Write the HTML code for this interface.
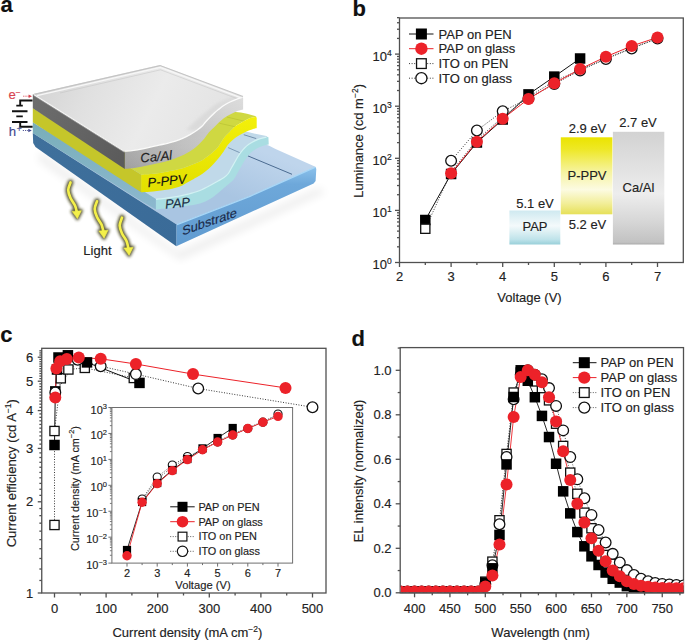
<!DOCTYPE html><html><head><meta charset="utf-8"><style>html,body{margin:0;padding:0;background:#fff;overflow:hidden}svg{display:block}text{font-family:"Liberation Sans", sans-serif}</style></head><body>
<svg width="685" height="640" viewBox="0 0 685 640">
<rect width="685" height="640" fill="#fff"/>
<text x="0.5" y="11.8" font-size="22" text-anchor="start" fill="#111" stroke="#111" stroke-width="0.15" font-weight="bold">a</text>
<text x="352.5" y="15.6" font-size="22" text-anchor="start" fill="#111" stroke="#111" stroke-width="0.15" font-weight="bold">b</text>
<text x="0.3" y="342.4" font-size="22" text-anchor="start" fill="#111" stroke="#111" stroke-width="0.15" font-weight="bold">c</text>
<text x="351.6" y="345.7" font-size="22" text-anchor="start" fill="#111" stroke="#111" stroke-width="0.15" font-weight="bold">d</text>
<defs><linearGradient id="aCaTop" gradientUnits="userSpaceOnUse" x1="40" y1="70" x2="200" y2="150"><stop offset="0" stop-color="#d3d3d3"/><stop offset="0.3" stop-color="#e0e0e0"/><stop offset="0.65" stop-color="#ebebeb"/><stop offset="1" stop-color="#e4e4e4"/></linearGradient><linearGradient id="aCaFront" gradientUnits="userSpaceOnUse" x1="125" y1="0" x2="245" y2="0"><stop offset="0" stop-color="#ababab"/><stop offset="0.45" stop-color="#c0c0c0"/><stop offset="1" stop-color="#d2d2d2"/></linearGradient><linearGradient id="aCaFrontV" x1="0" y1="0" x2="0" y2="1"><stop offset="0" stop-color="#fff" stop-opacity="0.25"/><stop offset="0.5" stop-color="#fff" stop-opacity="0"/><stop offset="1" stop-color="#000" stop-opacity="0.07"/></linearGradient><linearGradient id="aCaLeft" gradientUnits="userSpaceOnUse" x1="33" y1="95" x2="125" y2="165"><stop offset="0" stop-color="#6e6e6e"/><stop offset="1" stop-color="#5a5a5a"/></linearGradient><linearGradient id="aPpvFront" x1="0" y1="0" x2="0" y2="1"><stop offset="0" stop-color="#f3f00a"/><stop offset="1" stop-color="#e2df00"/></linearGradient><linearGradient id="aPapLeft" x1="0" y1="0" x2="0" y2="1"><stop offset="0" stop-color="#79aeb9"/><stop offset="1" stop-color="#8cb8cf"/></linearGradient><linearGradient id="aSubFront" x1="0" y1="0" x2="0" y2="1"><stop offset="0" stop-color="#8cc2ec"/><stop offset="0.22" stop-color="#6ea8da"/><stop offset="1" stop-color="#609bd0"/></linearGradient><linearGradient id="aSubLeft" gradientUnits="userSpaceOnUse" x1="33" y1="135" x2="176" y2="240"><stop offset="0" stop-color="#3f709c"/><stop offset="1" stop-color="#3a6b98"/></linearGradient><linearGradient id="aSubTop" gradientUnits="userSpaceOnUse" x1="260" y1="150" x2="240" y2="200"><stop offset="0" stop-color="#bfd5ec"/><stop offset="1" stop-color="#a9c5e2"/></linearGradient><filter id="aBlur" x="-50%" y="-50%" width="200%" height="200%"><feGaussianBlur stdDeviation="1.5"/></filter><filter id="aShadow" x="-50%" y="-50%" width="200%" height="200%"><feGaussianBlur stdDeviation="4"/></filter></defs>
<path d="M40,152 L178,252 L318,188 L326,192 L180,260 L38,160 Z" fill="#000" opacity="0.07" filter="url(#aShadow)"/>
<path d="M176.3,224.3 L250,195.8 L315.4,166.7 L275,148.75 L268.75,145.6 L250,140 L100,100 L32.8,133.1 Z" fill="url(#aSubTop)" />
<path d="M247.7,155.8 L292,174.3" fill="none" stroke="#3d5f86" stroke-width="0.9"/>
<path d="M176.3,224.3 L250,195.8 L315.4,166.7 L316.3,169 L315.6,181 L313.6,183.5 L250,212.6 L176.3,246.2 Z" fill="url(#aSubFront)" />
<path d="M177,224.7 L250,196.3 L315,167.3" fill="none" stroke="#a9d7f6" stroke-width="1.3"/>
<path d="M32.8,133.1 L176.3,224.3 L176.3,246.2 L35.5,147 L33.2,143 Z" fill="url(#aSubLeft)" />
<path d="M155.8,199.1 C157.27,198.98 160.7,198.88 164.6,198.4 C168.5,197.92 174.33,197.18 179.2,196.2 C184.07,195.22 190.33,193.45 193.8,192.5 C197.27,191.55 197.3,191.67 200,190.5 C202.7,189.33 207,187.08 210,185.5 C213,183.92 215.67,182.33 218,181 C220.33,179.67 222.32,178.71 224,177.5 C225.68,176.29 226.89,175.28 228.1,173.75 C229.31,172.22 230.2,170.12 231.25,168.3 C232.3,166.48 233.36,164.63 234.4,162.8 C235.44,160.97 236.47,158.98 237.5,157.3 C238.53,155.62 239.43,154.25 240.6,152.7 C241.77,151.15 243.07,149.43 244.5,148 C245.93,146.57 247.5,145.28 249.2,144.1 C250.9,142.92 252.87,141.82 254.7,140.9 C256.53,139.98 258.23,139.23 260.2,138.6 C262.17,137.97 265.45,137.35 266.5,137.1 L267.6,136.3 L257.8,134.3 L250,132.5 L100,95 L32.8,122.3 Z" fill="#c0d9e9"/>
<path d="M243.75,134.7 L256.25,138.6" fill="none" stroke="#4f6f8f" stroke-width="0.7"/>
<path d="M228.1,147.6 L239.8,152.7" fill="none" stroke="#5f7f9f" stroke-width="0.7"/>
<path d="M155.8,199.1 C157.27,198.98 160.7,198.88 164.6,198.4 C168.5,197.92 174.33,197.18 179.2,196.2 C184.07,195.22 190.33,193.45 193.8,192.5 C197.27,191.55 197.3,191.67 200,190.5 C202.7,189.33 207,187.08 210,185.5 C213,183.92 215.67,182.33 218,181 C220.33,179.67 222.32,178.71 224,177.5 C225.68,176.29 226.89,175.28 228.1,173.75 C229.31,172.22 230.2,170.12 231.25,168.3 C232.3,166.48 233.36,164.63 234.4,162.8 C235.44,160.97 236.47,158.98 237.5,157.3 C238.53,155.62 239.43,154.25 240.6,152.7 C241.77,151.15 243.07,149.43 244.5,148 C245.93,146.57 247.5,145.28 249.2,144.1 C250.9,142.92 252.87,141.82 254.7,140.9 C256.53,139.98 258.23,139.23 260.2,138.6 C262.17,137.97 265.13,137.33 266.5,137.1 C267.87,136.87 268.08,137.18 268.4,137.2 L268.75,144.6 C267.71,144.83 264.58,145.31 262.5,146 C260.42,146.69 258.2,147.63 256.25,148.75 C254.3,149.87 252.36,151.27 250.8,152.7 C249.24,154.12 248.08,155.75 246.9,157.3 C245.72,158.85 244.8,160.3 243.75,162 C242.7,163.7 241.64,165.67 240.6,167.5 C239.56,169.33 238.53,171.18 237.5,173 C236.47,174.82 235.57,176.82 234.4,178.4 C233.23,179.98 231.9,181.2 230.5,182.5 C229.1,183.8 228.17,184.37 226,186.2 C223.83,188.03 220.17,191.37 217.5,193.5 C214.83,195.63 212.92,197.33 210,199 C207.08,200.67 204,202.33 200,203.5 C196,204.67 191,205.25 186,206 C181,206.75 175.03,207.42 170,208 C164.97,208.58 158.17,209.25 155.8,209.5 Z" fill="#a9dde2" />
<path d="M155.8,199.4 C157.27,198.98 160.7,198.88 164.6,198.4 C168.5,197.92 174.33,197.18 179.2,196.2 C184.07,195.22 190.33,193.45 193.8,192.5 C197.27,191.55 197.3,191.67 200,190.5 C202.7,189.33 207,187.08 210,185.5 C213,183.92 215.67,182.33 218,181 C220.33,179.67 222.32,178.71 224,177.5 C225.68,176.29 226.89,175.28 228.1,173.75 C229.31,172.22 230.2,170.12 231.25,168.3 C232.3,166.48 233.36,164.63 234.4,162.8 C235.44,160.97 236.47,158.98 237.5,157.3 C238.53,155.62 239.43,154.25 240.6,152.7 C241.77,151.15 243.07,149.43 244.5,148 C245.93,146.57 247.5,145.28 249.2,144.1 C250.9,142.92 252.87,141.82 254.7,140.9 C256.53,139.98 258.23,139.23 260.2,138.6 C262.17,137.97 265.45,137.35 266.5,137.1" fill="none" stroke="#d2f2f3" stroke-width="1.2"/>
<path d="M32.8,122.3 L155.8,199.1 L155.8,209.5 L142,201.4 L32.8,133.1 Z" fill="url(#aPapLeft)" />
<path d="M141.1,174.5 C142.79,174.42 148.1,174.25 151.25,174 C154.4,173.75 156.88,173.5 160,173 C163.12,172.5 167,171.63 170,171 C173,170.37 175.5,169.8 178,169.2 C180.5,168.6 183,168 185,167.4 C187,166.8 188.12,166.32 190,165.6 C191.88,164.88 194.17,164.03 196.25,163.1 C198.33,162.17 200.42,161.25 202.5,160 C204.58,158.75 206.88,157.06 208.75,155.6 C210.62,154.14 212.19,152.7 213.75,151.25 C215.31,149.8 216.89,148.34 218.1,146.9 C219.31,145.46 220.14,143.96 221,142.6 C221.86,141.24 222.35,140.02 223.25,138.75 C224.15,137.48 225.36,136.14 226.4,135 C227.44,133.86 228.47,132.94 229.5,131.9 C230.53,130.86 231.45,129.8 232.6,128.75 C233.75,127.7 235.04,126.54 236.4,125.6 C237.76,124.66 239.3,123.93 240.75,123.1 C242.2,122.27 243.54,121.43 245.1,120.6 C246.66,119.77 248.43,118.72 250.1,118.1 C251.77,117.48 254.27,117.1 255.1,116.9 L256.5,116.5 L255.1,115.9 L247,113.75 L240.75,112.5 L235.75,111.9 L100,90 L32.8,108.3 Z" fill="#cfd842"/>
<path d="M226.9,117 L245,121.4" fill="none" stroke="#b9c232" stroke-width="0.7"/>
<path d="M219.4,123.25 L236.25,127" fill="none" stroke="#b9c232" stroke-width="0.7"/>
<path d="M141.1,174.5 C142.79,174.42 148.1,174.25 151.25,174 C154.4,173.75 156.88,173.5 160,173 C163.12,172.5 167,171.63 170,171 C173,170.37 175.5,169.8 178,169.2 C180.5,168.6 183,168 185,167.4 C187,166.8 188.12,166.32 190,165.6 C191.88,164.88 194.17,164.03 196.25,163.1 C198.33,162.17 200.42,161.25 202.5,160 C204.58,158.75 206.88,157.06 208.75,155.6 C210.62,154.14 212.19,152.7 213.75,151.25 C215.31,149.8 216.89,148.34 218.1,146.9 C219.31,145.46 220.14,143.96 221,142.6 C221.86,141.24 222.35,140.02 223.25,138.75 C224.15,137.48 225.36,136.14 226.4,135 C227.44,133.86 228.47,132.94 229.5,131.9 C230.53,130.86 231.45,129.8 232.6,128.75 C233.75,127.7 235.04,126.54 236.4,125.6 C237.76,124.66 239.3,123.93 240.75,123.1 C242.2,122.27 243.54,121.43 245.1,120.6 C246.66,119.77 248.43,118.72 250.1,118.1 C251.77,117.48 254,116.98 255.1,116.9 C256.2,116.82 256.43,117.48 256.7,117.6 L256.7,128.1 C255.92,128.32 253.62,128.88 252,129.4 C250.38,129.93 248.67,130.53 247,131.25 C245.33,131.97 243.57,132.92 242,133.75 C240.43,134.58 239.06,135.31 237.6,136.25 C236.14,137.19 234.6,138.26 233.25,139.4 C231.9,140.54 230.64,141.85 229.5,143.1 C228.36,144.35 227.57,145.23 226.4,146.9 C225.23,148.57 223.88,151.12 222.5,153.1 C221.12,155.07 219.56,156.97 218.1,158.75 C216.64,160.53 215.31,162.08 213.75,163.75 C212.19,165.42 210.62,167.08 208.75,168.75 C206.88,170.42 204.58,172.29 202.5,173.75 C200.42,175.21 198.33,176.29 196.25,177.5 C194.17,178.71 192.84,179.47 190,181 C187.16,182.53 183.43,185.2 179.2,186.7 C174.97,188.2 169.47,189.15 164.6,190 C159.73,190.85 153.92,191.42 150,191.8 C146.08,192.18 142.58,192.22 141.1,192.3 Z" fill="url(#aPpvFront)" />
<path d="M32.8,108.3 L141.1,174.5 L141.1,192.3 L32.8,122.3 Z" fill="#c5c62a" />
<path d="M32.8,94.2 L160,65 L242.5,96.4 L241.9,97.5 C240.96,97.82 238.23,98.65 236.25,99.4 C234.27,100.15 232.08,100.98 230,102 C227.92,103.02 225.62,104.28 223.75,105.5 C221.88,106.72 220.31,108.05 218.75,109.3 C217.19,110.55 215.81,111.72 214.4,113 C212.99,114.28 211.7,115.58 210.3,117 C208.9,118.42 207.38,119.95 206,121.5 C204.62,123.05 203.57,124.8 202,126.3 C200.43,127.8 198.67,129.07 196.6,130.5 C194.53,131.93 191.93,133.58 189.6,134.9 C187.27,136.22 184.95,137.35 182.6,138.4 C180.25,139.45 177.85,140.42 175.5,141.2 C173.15,141.98 171.25,142.43 168.5,143.1 C165.75,143.77 162.53,144.4 159,145.2 C155.47,146 151.2,147.07 147.3,147.9 C143.4,148.73 139.35,149.62 135.6,150.2 C131.85,150.78 126.6,151.2 124.8,151.4 Z" fill="url(#aCaTop)"/>
<path d="M241.9,97.5 C240.96,97.82 238.23,98.65 236.25,99.4 C234.27,100.15 232.08,100.98 230,102 C227.92,103.02 225.62,104.28 223.75,105.5 C221.88,106.72 220.31,108.05 218.75,109.3 C217.19,110.55 215.81,111.72 214.4,113 C212.99,114.28 211.7,115.58 210.3,117 C208.9,118.42 207.38,119.95 206,121.5 C204.62,123.05 203.57,124.8 202,126.3 C200.43,127.8 197.5,129.8 196.6,130.5 L186,130 L200,117 L216,104 L236,95.5 Z" fill="#d6d6d6" opacity="0.7" filter="url(#aBlur)"/>
<path d="M34,94.4 L160,65.6 L243,96.6" fill="none" stroke="#c4c4c4" stroke-width="1.1"/>
<path d="M37,95.6 L160.2,67.4 L240.5,97.6" fill="none" stroke="#f7f7f7" stroke-width="1.4"/>
<path d="M60,93 L160.5,69.8 L238,99" fill="none" stroke="#c0c0c0" stroke-width="0.8" opacity="0.6"/>
<path d="M124.8,151.4 C126.6,151.2 131.85,150.78 135.6,150.2 C139.35,149.62 143.4,148.73 147.3,147.9 C151.2,147.07 155.47,146 159,145.2 C162.53,144.4 165.75,143.77 168.5,143.1 C171.25,142.43 173.15,141.98 175.5,141.2 C177.85,140.42 180.25,139.45 182.6,138.4 C184.95,137.35 187.27,136.22 189.6,134.9 C191.93,133.58 194.53,131.93 196.6,130.5 C198.67,129.07 200.43,127.8 202,126.3 C203.57,124.8 204.62,123.05 206,121.5 C207.38,119.95 208.9,118.42 210.3,117 C211.7,115.58 212.99,114.28 214.4,113 C215.81,111.72 217.19,110.55 218.75,109.3 C220.31,108.05 221.88,106.72 223.75,105.5 C225.62,104.28 227.92,103.02 230,102 C232.08,100.98 234.27,100.15 236.25,99.4 C238.23,98.65 240.76,97.7 241.9,97.5 C243.04,97.3 242.9,98.08 243.1,98.2 L243.1,109.5 C241.96,109.82 238.43,110.57 236.25,111.4 C234.07,112.23 232.08,113.36 230,114.5 C227.92,115.64 225.62,116.9 223.75,118.25 C221.88,119.6 220.31,121.14 218.75,122.6 C217.19,124.06 216.03,125.38 214.4,127 C212.78,128.62 210.67,130.38 209,132.3 C207.33,134.22 206.11,136.47 204.4,138.5 C202.69,140.53 200.63,142.72 198.75,144.5 C196.87,146.28 195.21,147.7 193.1,149.2 C190.99,150.7 188.43,152.23 186.1,153.5 C183.77,154.77 181.78,155.67 179.1,156.8 C176.42,157.93 173.35,159.27 170,160.3 C166.65,161.33 162.78,162.13 159,163 C155.22,163.87 151.2,164.7 147.3,165.5 C143.4,166.3 139.35,167.22 135.6,167.8 C131.85,168.38 126.6,168.8 124.8,169 Z" fill="url(#aCaFront)" />
<path d="M124.8,151.4 C126.6,151.2 131.85,150.78 135.6,150.2 C139.35,149.62 143.4,148.73 147.3,147.9 C151.2,147.07 155.47,146 159,145.2 C162.53,144.4 165.75,143.77 168.5,143.1 C171.25,142.43 173.15,141.98 175.5,141.2 C177.85,140.42 180.25,139.45 182.6,138.4 C184.95,137.35 187.27,136.22 189.6,134.9 C191.93,133.58 194.53,131.93 196.6,130.5 C198.67,129.07 200.43,127.8 202,126.3 C203.57,124.8 204.62,123.05 206,121.5 C207.38,119.95 208.9,118.42 210.3,117 C211.7,115.58 212.99,114.28 214.4,113 C215.81,111.72 217.19,110.55 218.75,109.3 C220.31,108.05 221.88,106.72 223.75,105.5 C225.62,104.28 227.92,103.02 230,102 C232.08,100.98 234.27,100.15 236.25,99.4 C238.23,98.65 240.76,97.7 241.9,97.5 C243.04,97.3 242.9,98.08 243.1,98.2 L243.1,109.5 C241.96,109.82 238.43,110.57 236.25,111.4 C234.07,112.23 232.08,113.36 230,114.5 C227.92,115.64 225.62,116.9 223.75,118.25 C221.88,119.6 220.31,121.14 218.75,122.6 C217.19,124.06 216.03,125.38 214.4,127 C212.78,128.62 210.67,130.38 209,132.3 C207.33,134.22 206.11,136.47 204.4,138.5 C202.69,140.53 200.63,142.72 198.75,144.5 C196.87,146.28 195.21,147.7 193.1,149.2 C190.99,150.7 188.43,152.23 186.1,153.5 C183.77,154.77 181.78,155.67 179.1,156.8 C176.42,157.93 173.35,159.27 170,160.3 C166.65,161.33 162.78,162.13 159,163 C155.22,163.87 151.2,164.7 147.3,165.5 C143.4,166.3 139.35,167.22 135.6,167.8 C131.85,168.38 126.6,168.8 124.8,169 Z" fill="url(#aCaFrontV)" />
<path d="M125,151.1 C126.6,151.2 131.85,150.78 135.6,150.2 C139.35,149.62 143.4,148.73 147.3,147.9 C151.2,147.07 155.47,146 159,145.2 C162.53,144.4 165.75,143.77 168.5,143.1 C171.25,142.43 173.15,141.98 175.5,141.2 C177.85,140.42 180.25,139.45 182.6,138.4 C184.95,137.35 187.27,136.22 189.6,134.9 C191.93,133.58 194.53,131.93 196.6,130.5 C198.67,129.07 200.43,127.8 202,126.3 C203.57,124.8 204.62,123.05 206,121.5 C207.38,119.95 208.9,118.42 210.3,117 C211.7,115.58 212.99,114.28 214.4,113 C215.81,111.72 217.19,110.55 218.75,109.3 C220.31,108.05 221.88,106.72 223.75,105.5 C225.62,104.28 227.92,103.02 230,102 C232.08,100.98 234.27,100.15 236.25,99.4 C238.23,98.65 240.96,97.82 241.9,97.5" fill="none" stroke="#fbfbfb" stroke-width="1.3"/>
<path d="M32.8,94.2 L124.8,151.4 L124.8,169 L32.8,108.3 Z" fill="url(#aCaLeft)" />
<path d="M34,94.9 L124.6,151.6" fill="none" stroke="#f4f4f4" stroke-width="1.4"/>
<path d="M33.6,95.6 L124.6,152.5" fill="none" stroke="#8c8c8c" stroke-width="0.7"/>
<text font-size="13" font-style="italic" fill="#222" stroke="#222" stroke-width="0.15" transform="translate(140.8,162.6) rotate(-5.5)">Ca/Al</text>
<text font-size="13" font-style="italic" fill="#111" stroke="#111" stroke-width="0.15" transform="translate(148,187.3) rotate(-6)">P-PPV</text>
<text font-size="13" font-style="italic" fill="#1c2c44" stroke="#1c2c44" stroke-width="0.15" transform="translate(165.5,208.8) rotate(-5.5)">PAP</text>
<text font-size="12.8" fill="#1a2a4a" stroke="#1a2a4a" stroke-width="0.15" transform="translate(182.2,235.4) skewY(-19)">Substrate</text>
<path d="M32.5,100.5 H20.2 V105.6 M16.3,105.6 H22.8 M12,111.2 H27.5 M16.3,116.4 H22.8 M12,122 H27.5 M20.2,122 V126.7 H32.6" fill="none" stroke="#111" stroke-width="1.9"/>
<text x="8.4" y="99.3" font-size="13.2" text-anchor="start" fill="#d8434f" stroke="#d8434f" stroke-width="0.15" >e<tspan dy="-4.8" font-size="8.5">−</tspan></text>
<path d="M23.2,96.2 L29,96.2" fill="none" stroke="#d8434f" stroke-width="0.9" stroke-dasharray="1.2,1"/>
<path d="M28.6,94.4 L32,96.2 L28.6,98 Z" fill="#d8434f"/>
<text x="8.8" y="135.7" font-size="13.2" text-anchor="start" fill="#44498f" stroke="#44498f" stroke-width="0.15" >h<tspan dx="0.6" dy="-3.6" font-size="8.5">+</tspan></text>
<path d="M22.8,130.5 L28.6,130.5" fill="none" stroke="#44498f" stroke-width="0.9" stroke-dasharray="1.2,1"/>
<path d="M28.3,128.7 L31.8,130.5 L28.3,132.3 Z" fill="#44498f"/>
<g filter="url(#aBlur)" opacity="0.95"><path d="M70.5,182.5 C70.12,183.75 68.2,187.42 68.2,190 C68.2,192.58 69.37,195.42 70.5,198 C71.63,200.58 73.95,203.17 75,205.5 C76.05,207.83 76.5,210.92 76.8,212" fill="none" stroke="#46441c" stroke-width="5.6" stroke-linecap="round"/><path d="M72.2,211.4 L81.3,210.7 L77.4,218.6 Z" fill="#46441c" stroke="#46441c" stroke-width="3.2" stroke-linejoin="round"/></g>
<path d="M70.5,182.5 C70.12,183.75 68.2,187.42 68.2,190 C68.2,192.58 69.37,195.42 70.5,198 C71.63,200.58 73.95,203.17 75,205.5 C76.05,207.83 76.5,210.92 76.8,212" fill="none" stroke="#f4f04a" stroke-width="2.7" stroke-linecap="round"/><path d="M72.2,211.4 L81.3,210.7 L77.4,218.6 Z" fill="#f4f04a" stroke="#f4f04a" stroke-width="0.6" stroke-linejoin="round"/>
<g filter="url(#aBlur)" opacity="0.95"><path d="M97,201.3 C96.62,202.58 94.7,206.38 94.7,209 C94.7,211.62 95.87,214.42 97,217 C98.13,219.58 100.43,222.08 101.5,224.5 C102.57,226.92 103.08,230.33 103.4,231.5" fill="none" stroke="#46441c" stroke-width="5.6" stroke-linecap="round"/><path d="M98.9,231 L108,230.3 L104.1,238.2 Z" fill="#46441c" stroke="#46441c" stroke-width="3.2" stroke-linejoin="round"/></g>
<path d="M97,201.3 C96.62,202.58 94.7,206.38 94.7,209 C94.7,211.62 95.87,214.42 97,217 C98.13,219.58 100.43,222.08 101.5,224.5 C102.57,226.92 103.08,230.33 103.4,231.5" fill="none" stroke="#f4f04a" stroke-width="2.7" stroke-linecap="round"/><path d="M98.9,231 L108,230.3 L104.1,238.2 Z" fill="#f4f04a" stroke="#f4f04a" stroke-width="0.6" stroke-linejoin="round"/>
<g filter="url(#aBlur)" opacity="0.95"><path d="M122,217.7 C121.62,219 119.7,222.87 119.7,225.5 C119.7,228.13 120.87,230.92 122,233.5 C123.13,236.08 125.43,238.5 126.5,241 C127.57,243.5 128.08,247.25 128.4,248.5" fill="none" stroke="#46441c" stroke-width="5.6" stroke-linecap="round"/><path d="M123.9,248.1 L133,247.4 L129.1,255.3 Z" fill="#46441c" stroke="#46441c" stroke-width="3.2" stroke-linejoin="round"/></g>
<path d="M122,217.7 C121.62,219 119.7,222.87 119.7,225.5 C119.7,228.13 120.87,230.92 122,233.5 C123.13,236.08 125.43,238.5 126.5,241 C127.57,243.5 128.08,247.25 128.4,248.5" fill="none" stroke="#f4f04a" stroke-width="2.7" stroke-linecap="round"/><path d="M123.9,248.1 L133,247.4 L129.1,255.3 Z" fill="#f4f04a" stroke="#f4f04a" stroke-width="0.6" stroke-linejoin="round"/>
<text x="83.3" y="255.3" font-size="13" text-anchor="start" fill="#222" stroke="#222" stroke-width="0.15" >Light</text>
<defs><linearGradient id="gPAP" x1="0" y1="0" x2="0" y2="1"><stop offset="0" stop-color="#cfe9f0"/><stop offset="0.45" stop-color="#f4fafb"/><stop offset="0.85" stop-color="#bfe3ea"/><stop offset="1" stop-color="#98cfd9"/></linearGradient><linearGradient id="gPPV" x1="0" y1="0" x2="0" y2="1"><stop offset="0" stop-color="#ebe400"/><stop offset="0.15" stop-color="#eee824"/><stop offset="0.45" stop-color="#f6f3a0"/><stop offset="0.68" stop-color="#fcfbe2"/><stop offset="0.86" stop-color="#f2ee98"/><stop offset="1" stop-color="#e6e058"/></linearGradient><linearGradient id="gCA" x1="0" y1="0" x2="0" y2="1"><stop offset="0" stop-color="#d2d2d2"/><stop offset="0.55" stop-color="#ededed"/><stop offset="0.8" stop-color="#d6d6d6"/><stop offset="0.98" stop-color="#c2c2c2"/><stop offset="1" stop-color="#aaa"/></linearGradient></defs>
<rect x="509.4" y="210.5" width="50.9" height="34" fill="url(#gPAP)"/>
<rect x="560.8" y="137.3" width="51.6" height="77" fill="url(#gPPV)"/>
<rect x="612.9" y="131.8" width="51.4" height="112.7" fill="url(#gCA)"/>
<text x="587.5" y="132.6" font-size="13" text-anchor="middle" fill="#222" stroke="#222" stroke-width="0.15" >2.9 eV</text>
<text x="638" y="126.8" font-size="13" text-anchor="middle" fill="#222" stroke="#222" stroke-width="0.15" >2.7 eV</text>
<text x="587" y="180.3" font-size="13" text-anchor="middle" fill="#222" stroke="#222" stroke-width="0.15" >P-PPV</text>
<text x="638.5" y="191.5" font-size="13" text-anchor="middle" fill="#222" stroke="#222" stroke-width="0.15" >Ca/Al</text>
<text x="535" y="208" font-size="13" text-anchor="middle" fill="#222" stroke="#222" stroke-width="0.15" >5.1 eV</text>
<text x="535" y="230.8" font-size="13" text-anchor="middle" fill="#222" stroke="#222" stroke-width="0.15" >PAP</text>
<text x="587.5" y="229.2" font-size="13" text-anchor="middle" fill="#222" stroke="#222" stroke-width="0.15" >5.2 eV</text>
<rect x="399.5" y="18.0" width="283.8" height="244.5" fill="none" stroke="#505050" stroke-width="1.3"/>
<path d="M399.5,262.5 L399.5,267" fill="none" stroke="#505050" stroke-width="1.3"/>
<text x="399.5" y="281" font-size="13" text-anchor="middle" fill="#222" stroke="#222" stroke-width="0.15" >2</text>
<path d="M451.1,262.5 L451.1,267" fill="none" stroke="#505050" stroke-width="1.3"/>
<text x="451.1" y="281" font-size="13" text-anchor="middle" fill="#222" stroke="#222" stroke-width="0.15" >3</text>
<path d="M502.7,262.5 L502.7,267" fill="none" stroke="#505050" stroke-width="1.3"/>
<text x="502.7" y="281" font-size="13" text-anchor="middle" fill="#222" stroke="#222" stroke-width="0.15" >4</text>
<path d="M554.3,262.5 L554.3,267" fill="none" stroke="#505050" stroke-width="1.3"/>
<text x="554.3" y="281" font-size="13" text-anchor="middle" fill="#222" stroke="#222" stroke-width="0.15" >5</text>
<path d="M605.9,262.5 L605.9,267" fill="none" stroke="#505050" stroke-width="1.3"/>
<text x="605.9" y="281" font-size="13" text-anchor="middle" fill="#222" stroke="#222" stroke-width="0.15" >6</text>
<path d="M657.5,262.5 L657.5,267" fill="none" stroke="#505050" stroke-width="1.3"/>
<text x="657.5" y="281" font-size="13" text-anchor="middle" fill="#222" stroke="#222" stroke-width="0.15" >7</text>
<path d="M425.3,262.5 L425.3,265" fill="none" stroke="#505050" stroke-width="1.3"/>
<path d="M476.9,262.5 L476.9,265" fill="none" stroke="#505050" stroke-width="1.3"/>
<path d="M528.5,262.5 L528.5,265" fill="none" stroke="#505050" stroke-width="1.3"/>
<path d="M580.1,262.5 L580.1,265" fill="none" stroke="#505050" stroke-width="1.3"/>
<path d="M631.7,262.5 L631.7,265" fill="none" stroke="#505050" stroke-width="1.3"/>
<path d="M395,262.5 L399.5,262.5" fill="none" stroke="#505050" stroke-width="1.3"/>
<text x="391.8" y="269.3" font-size="13" text-anchor="end" fill="#222" stroke="#222" stroke-width="0.15">10<tspan dy="-5" font-size="8.5">0</tspan></text>
<path d="M397,246.82 L399.5,246.82" fill="none" stroke="#505050" stroke-width="1.3"/>
<path d="M397,237.64 L399.5,237.64" fill="none" stroke="#505050" stroke-width="1.3"/>
<path d="M397,231.13 L399.5,231.13" fill="none" stroke="#505050" stroke-width="1.3"/>
<path d="M397,226.08 L399.5,226.08" fill="none" stroke="#505050" stroke-width="1.3"/>
<path d="M397,221.96 L399.5,221.96" fill="none" stroke="#505050" stroke-width="1.3"/>
<path d="M397,218.47 L399.5,218.47" fill="none" stroke="#505050" stroke-width="1.3"/>
<path d="M397,215.45 L399.5,215.45" fill="none" stroke="#505050" stroke-width="1.3"/>
<path d="M397,212.78 L399.5,212.78" fill="none" stroke="#505050" stroke-width="1.3"/>
<path d="M395,210.4 L399.5,210.4" fill="none" stroke="#505050" stroke-width="1.3"/>
<text x="391.8" y="217.2" font-size="13" text-anchor="end" fill="#222" stroke="#222" stroke-width="0.15">10<tspan dy="-5" font-size="8.5">1</tspan></text>
<path d="M397,194.72 L399.5,194.72" fill="none" stroke="#505050" stroke-width="1.3"/>
<path d="M397,185.54 L399.5,185.54" fill="none" stroke="#505050" stroke-width="1.3"/>
<path d="M397,179.03 L399.5,179.03" fill="none" stroke="#505050" stroke-width="1.3"/>
<path d="M397,173.98 L399.5,173.98" fill="none" stroke="#505050" stroke-width="1.3"/>
<path d="M397,169.86 L399.5,169.86" fill="none" stroke="#505050" stroke-width="1.3"/>
<path d="M397,166.37 L399.5,166.37" fill="none" stroke="#505050" stroke-width="1.3"/>
<path d="M397,163.35 L399.5,163.35" fill="none" stroke="#505050" stroke-width="1.3"/>
<path d="M397,160.68 L399.5,160.68" fill="none" stroke="#505050" stroke-width="1.3"/>
<path d="M395,158.3 L399.5,158.3" fill="none" stroke="#505050" stroke-width="1.3"/>
<text x="391.8" y="165.1" font-size="13" text-anchor="end" fill="#222" stroke="#222" stroke-width="0.15">10<tspan dy="-5" font-size="8.5">2</tspan></text>
<path d="M397,142.62 L399.5,142.62" fill="none" stroke="#505050" stroke-width="1.3"/>
<path d="M397,133.44 L399.5,133.44" fill="none" stroke="#505050" stroke-width="1.3"/>
<path d="M397,126.93 L399.5,126.93" fill="none" stroke="#505050" stroke-width="1.3"/>
<path d="M397,121.88 L399.5,121.88" fill="none" stroke="#505050" stroke-width="1.3"/>
<path d="M397,117.76 L399.5,117.76" fill="none" stroke="#505050" stroke-width="1.3"/>
<path d="M397,114.27 L399.5,114.27" fill="none" stroke="#505050" stroke-width="1.3"/>
<path d="M397,111.25 L399.5,111.25" fill="none" stroke="#505050" stroke-width="1.3"/>
<path d="M397,108.58 L399.5,108.58" fill="none" stroke="#505050" stroke-width="1.3"/>
<path d="M395,106.2 L399.5,106.2" fill="none" stroke="#505050" stroke-width="1.3"/>
<text x="391.8" y="113" font-size="13" text-anchor="end" fill="#222" stroke="#222" stroke-width="0.15">10<tspan dy="-5" font-size="8.5">3</tspan></text>
<path d="M397,90.52 L399.5,90.52" fill="none" stroke="#505050" stroke-width="1.3"/>
<path d="M397,81.34 L399.5,81.34" fill="none" stroke="#505050" stroke-width="1.3"/>
<path d="M397,74.83 L399.5,74.83" fill="none" stroke="#505050" stroke-width="1.3"/>
<path d="M397,69.78 L399.5,69.78" fill="none" stroke="#505050" stroke-width="1.3"/>
<path d="M397,65.66 L399.5,65.66" fill="none" stroke="#505050" stroke-width="1.3"/>
<path d="M397,62.17 L399.5,62.17" fill="none" stroke="#505050" stroke-width="1.3"/>
<path d="M397,59.15 L399.5,59.15" fill="none" stroke="#505050" stroke-width="1.3"/>
<path d="M397,56.48 L399.5,56.48" fill="none" stroke="#505050" stroke-width="1.3"/>
<path d="M395,54.1 L399.5,54.1" fill="none" stroke="#505050" stroke-width="1.3"/>
<text x="391.8" y="60.9" font-size="13" text-anchor="end" fill="#222" stroke="#222" stroke-width="0.15">10<tspan dy="-5" font-size="8.5">4</tspan></text>
<path d="M397,38.42 L399.5,38.42" fill="none" stroke="#505050" stroke-width="1.3"/>
<path d="M397,29.24 L399.5,29.24" fill="none" stroke="#505050" stroke-width="1.3"/>
<path d="M397,22.73 L399.5,22.73" fill="none" stroke="#505050" stroke-width="1.3"/>
<path d="M397,17.68 L399.5,17.68" fill="none" stroke="#505050" stroke-width="1.3"/>
<text x="0" y="0" font-size="13" text-anchor="middle" fill="#222" stroke="#222" stroke-width="0.15" transform="translate(363.4,140.9) rotate(-90)">Luminance (cd m<tspan dy="-5" font-size="8.5">−2</tspan><tspan dy="5">)</tspan></text>
<text x="529.5" y="302.2" font-size="13" text-anchor="middle" fill="#222" stroke="#222" stroke-width="0.15" >Voltage (V)</text>
<path d="M425.3,228.75 L451.1,172 L476.9,140 L502.7,117 L528.5,97 L554.3,81 L580.1,70 L605.9,58.5 L631.7,48 L657.5,38.5" fill="none" stroke="#222" stroke-width="0.9" stroke-dasharray="1,1.6"/>
<path d="M451.1,160.75 L476.9,130.5 L502.7,111.25 L528.5,98.5 L554.3,84 L580.1,70.5 L605.9,59 L631.7,48.5 L657.5,38.5" fill="none" stroke="#222" stroke-width="0.9" stroke-dasharray="1,1.6"/>
<path d="M425.3,220 L451.1,174 L476.9,142.5 L502.7,119.5 L528.5,94.4 L554.3,76.6 L580.1,58.5" fill="none" stroke="#111" stroke-width="1.0"/>
<path d="M451.1,173.25 L476.9,141.75 L502.7,118.75 L528.5,98.9 L554.3,83.3 L580.1,69.1 L605.9,56.7 L631.7,46 L657.5,37.4" fill="none" stroke="#ec2229" stroke-width="1.0"/>
<rect x="420.05" y="214.75" width="10.5" height="10.5" fill="#000"/>
<rect x="445.85" y="168.75" width="10.5" height="10.5" fill="#000"/>
<rect x="471.65" y="137.25" width="10.5" height="10.5" fill="#000"/>
<rect x="497.45" y="114.25" width="10.5" height="10.5" fill="#000"/>
<rect x="523.25" y="89.15" width="10.5" height="10.5" fill="#000"/>
<rect x="549.05" y="71.35" width="10.5" height="10.5" fill="#000"/>
<rect x="574.85" y="53.25" width="10.5" height="10.5" fill="#000"/>
<rect x="420.7" y="224.15" width="9.2" height="9.2" fill="#fff" stroke="#111" stroke-width="1.3"/>
<circle cx="451.1" cy="160.75" r="5.35" fill="#fff" stroke="#111" stroke-width="1.3"/>
<circle cx="476.9" cy="130.5" r="5.35" fill="#fff" stroke="#111" stroke-width="1.3"/>
<circle cx="502.7" cy="111.25" r="5.35" fill="#fff" stroke="#111" stroke-width="1.3"/>
<circle cx="528.5" cy="98.5" r="5.35" fill="#fff" stroke="#111" stroke-width="1.3"/>
<circle cx="554.3" cy="84" r="5.35" fill="#fff" stroke="#111" stroke-width="1.3"/>
<circle cx="580.1" cy="70.5" r="5.35" fill="#fff" stroke="#111" stroke-width="1.3"/>
<circle cx="605.9" cy="59" r="5.35" fill="#fff" stroke="#111" stroke-width="1.3"/>
<circle cx="631.7" cy="48.5" r="5.35" fill="#fff" stroke="#111" stroke-width="1.3"/>
<circle cx="657.5" cy="38.5" r="5.35" fill="#fff" stroke="#111" stroke-width="1.3"/>
<circle cx="451.1" cy="173.25" r="6" fill="#ec2229"/>
<circle cx="476.9" cy="141.75" r="6" fill="#ec2229"/>
<circle cx="502.7" cy="118.75" r="6" fill="#ec2229"/>
<circle cx="528.5" cy="98.9" r="6" fill="#ec2229"/>
<circle cx="554.3" cy="83.3" r="6" fill="#ec2229"/>
<circle cx="580.1" cy="69.1" r="6" fill="#ec2229"/>
<circle cx="605.9" cy="56.7" r="6" fill="#ec2229"/>
<circle cx="631.7" cy="46" r="6" fill="#ec2229"/>
<circle cx="657.5" cy="37.4" r="6" fill="#ec2229"/>
<path d="M409,34 L433.5,34" fill="none" stroke="#111" stroke-width="1.0"/>
<rect x="415.9" y="28.5" width="11" height="11" fill="#000"/>
<text x="438.5" y="38.5" font-size="13" text-anchor="start" fill="#222" stroke="#222" stroke-width="0.15" >PAP on PEN</text>
<path d="M409,48.7 L433.5,48.7" fill="none" stroke="#ec2229" stroke-width="1.0"/>
<circle cx="421.4" cy="48.7" r="6.2" fill="#ec2229"/>
<text x="438.5" y="53.2" font-size="13" text-anchor="start" fill="#222" stroke="#222" stroke-width="0.15" >PAP on glass</text>
<path d="M409,63.6 L433.5,63.6" fill="none" stroke="#222" stroke-width="0.9" stroke-dasharray="1,1.6"/>
<rect x="416.55" y="58.75" width="9.7" height="9.7" fill="#fff" stroke="#111" stroke-width="1.3"/>
<text x="438.5" y="68.1" font-size="13" text-anchor="start" fill="#222" stroke="#222" stroke-width="0.15" >ITO on PEN</text>
<path d="M409,78.2 L433.5,78.2" fill="none" stroke="#222" stroke-width="0.9" stroke-dasharray="1,1.6"/>
<circle cx="421.4" cy="78.2" r="5.55" fill="#fff" stroke="#111" stroke-width="1.3"/>
<text x="438.5" y="82.7" font-size="13" text-anchor="start" fill="#222" stroke="#222" stroke-width="0.15" >ITO on glass</text>
<rect x="41.75" y="348.3" width="284.25" height="244.7" fill="none" stroke="#505050" stroke-width="1.3"/>
<path d="M54.5,593 L54.5,597.5" fill="none" stroke="#505050" stroke-width="1.3"/>
<text x="54.5" y="613" font-size="13" text-anchor="middle" fill="#222" stroke="#222" stroke-width="0.15" >0</text>
<path d="M106.1,593 L106.1,597.5" fill="none" stroke="#505050" stroke-width="1.3"/>
<text x="106.1" y="613" font-size="13" text-anchor="middle" fill="#222" stroke="#222" stroke-width="0.15" >100</text>
<path d="M157.7,593 L157.7,597.5" fill="none" stroke="#505050" stroke-width="1.3"/>
<text x="157.7" y="613" font-size="13" text-anchor="middle" fill="#222" stroke="#222" stroke-width="0.15" >200</text>
<path d="M209.3,593 L209.3,597.5" fill="none" stroke="#505050" stroke-width="1.3"/>
<text x="209.3" y="613" font-size="13" text-anchor="middle" fill="#222" stroke="#222" stroke-width="0.15" >300</text>
<path d="M260.9,593 L260.9,597.5" fill="none" stroke="#505050" stroke-width="1.3"/>
<text x="260.9" y="613" font-size="13" text-anchor="middle" fill="#222" stroke="#222" stroke-width="0.15" >400</text>
<path d="M312.5,593 L312.5,597.5" fill="none" stroke="#505050" stroke-width="1.3"/>
<text x="312.5" y="613" font-size="13" text-anchor="middle" fill="#222" stroke="#222" stroke-width="0.15" >500</text>
<path d="M80.3,593 L80.3,595.5" fill="none" stroke="#505050" stroke-width="1.3"/>
<path d="M131.9,593 L131.9,595.5" fill="none" stroke="#505050" stroke-width="1.3"/>
<path d="M183.5,593 L183.5,595.5" fill="none" stroke="#505050" stroke-width="1.3"/>
<path d="M235.1,593 L235.1,595.5" fill="none" stroke="#505050" stroke-width="1.3"/>
<path d="M286.7,593 L286.7,595.5" fill="none" stroke="#505050" stroke-width="1.3"/>
<path d="M37.75,593 L41.75,593" fill="none" stroke="#505050" stroke-width="1.3"/>
<text x="33.2" y="597.6" font-size="13" text-anchor="end" fill="#222" stroke="#222" stroke-width="0.15" >1</text>
<path d="M37.75,501.79 L41.75,501.79" fill="none" stroke="#505050" stroke-width="1.3"/>
<text x="33.2" y="506.39" font-size="13" text-anchor="end" fill="#222" stroke="#222" stroke-width="0.15" >2</text>
<path d="M37.75,448.43 L41.75,448.43" fill="none" stroke="#505050" stroke-width="1.3"/>
<text x="33.2" y="453.03" font-size="13" text-anchor="end" fill="#222" stroke="#222" stroke-width="0.15" >3</text>
<path d="M37.75,410.58 L41.75,410.58" fill="none" stroke="#505050" stroke-width="1.3"/>
<text x="33.2" y="415.18" font-size="13" text-anchor="end" fill="#222" stroke="#222" stroke-width="0.15" >4</text>
<path d="M37.75,381.21 L41.75,381.21" fill="none" stroke="#505050" stroke-width="1.3"/>
<text x="33.2" y="385.81" font-size="13" text-anchor="end" fill="#222" stroke="#222" stroke-width="0.15" >5</text>
<path d="M37.75,357.22 L41.75,357.22" fill="none" stroke="#505050" stroke-width="1.3"/>
<text x="33.2" y="361.82" font-size="13" text-anchor="end" fill="#222" stroke="#222" stroke-width="0.15" >6</text>
<path d="M39.35,580.46 L41.75,580.46" fill="none" stroke="#505050" stroke-width="1.3"/>
<path d="M39.35,569.01 L41.75,569.01" fill="none" stroke="#505050" stroke-width="1.3"/>
<path d="M39.35,558.48 L41.75,558.48" fill="none" stroke="#505050" stroke-width="1.3"/>
<path d="M39.35,548.72 L41.75,548.72" fill="none" stroke="#505050" stroke-width="1.3"/>
<path d="M39.35,539.64 L41.75,539.64" fill="none" stroke="#505050" stroke-width="1.3"/>
<path d="M39.35,531.15 L41.75,531.15" fill="none" stroke="#505050" stroke-width="1.3"/>
<path d="M39.35,523.17 L41.75,523.17" fill="none" stroke="#505050" stroke-width="1.3"/>
<path d="M39.35,515.65 L41.75,515.65" fill="none" stroke="#505050" stroke-width="1.3"/>
<path d="M39.35,508.54 L41.75,508.54" fill="none" stroke="#505050" stroke-width="1.3"/>
<path d="M39.35,495.37 L41.75,495.37" fill="none" stroke="#505050" stroke-width="1.3"/>
<path d="M39.35,489.25 L41.75,489.25" fill="none" stroke="#505050" stroke-width="1.3"/>
<path d="M39.35,483.4 L41.75,483.4" fill="none" stroke="#505050" stroke-width="1.3"/>
<path d="M39.35,477.8 L41.75,477.8" fill="none" stroke="#505050" stroke-width="1.3"/>
<path d="M39.35,472.42 L41.75,472.42" fill="none" stroke="#505050" stroke-width="1.3"/>
<path d="M39.35,467.26 L41.75,467.26" fill="none" stroke="#505050" stroke-width="1.3"/>
<path d="M39.35,462.3 L41.75,462.3" fill="none" stroke="#505050" stroke-width="1.3"/>
<path d="M39.35,457.51 L41.75,457.51" fill="none" stroke="#505050" stroke-width="1.3"/>
<path d="M39.35,452.89 L41.75,452.89" fill="none" stroke="#505050" stroke-width="1.3"/>
<path d="M39.35,444.12 L41.75,444.12" fill="none" stroke="#505050" stroke-width="1.3"/>
<path d="M39.35,439.94 L41.75,439.94" fill="none" stroke="#505050" stroke-width="1.3"/>
<path d="M39.35,435.89 L41.75,435.89" fill="none" stroke="#505050" stroke-width="1.3"/>
<path d="M39.35,431.96 L41.75,431.96" fill="none" stroke="#505050" stroke-width="1.3"/>
<path d="M39.35,428.15 L41.75,428.15" fill="none" stroke="#505050" stroke-width="1.3"/>
<path d="M39.35,424.44 L41.75,424.44" fill="none" stroke="#505050" stroke-width="1.3"/>
<path d="M39.35,420.83 L41.75,420.83" fill="none" stroke="#505050" stroke-width="1.3"/>
<path d="M39.35,417.33 L41.75,417.33" fill="none" stroke="#505050" stroke-width="1.3"/>
<path d="M39.35,413.91 L41.75,413.91" fill="none" stroke="#505050" stroke-width="1.3"/>
<path d="M39.35,407.33 L41.75,407.33" fill="none" stroke="#505050" stroke-width="1.3"/>
<path d="M39.35,404.16 L41.75,404.16" fill="none" stroke="#505050" stroke-width="1.3"/>
<path d="M39.35,401.06 L41.75,401.06" fill="none" stroke="#505050" stroke-width="1.3"/>
<path d="M39.35,398.03 L41.75,398.03" fill="none" stroke="#505050" stroke-width="1.3"/>
<path d="M39.35,395.08 L41.75,395.08" fill="none" stroke="#505050" stroke-width="1.3"/>
<path d="M39.35,392.18 L41.75,392.18" fill="none" stroke="#505050" stroke-width="1.3"/>
<path d="M39.35,389.35 L41.75,389.35" fill="none" stroke="#505050" stroke-width="1.3"/>
<path d="M39.35,386.58 L41.75,386.58" fill="none" stroke="#505050" stroke-width="1.3"/>
<path d="M39.35,383.87 L41.75,383.87" fill="none" stroke="#505050" stroke-width="1.3"/>
<path d="M39.35,378.61 L41.75,378.61" fill="none" stroke="#505050" stroke-width="1.3"/>
<path d="M39.35,376.05 L41.75,376.05" fill="none" stroke="#505050" stroke-width="1.3"/>
<path d="M39.35,373.54 L41.75,373.54" fill="none" stroke="#505050" stroke-width="1.3"/>
<path d="M39.35,371.08 L41.75,371.08" fill="none" stroke="#505050" stroke-width="1.3"/>
<path d="M39.35,368.67 L41.75,368.67" fill="none" stroke="#505050" stroke-width="1.3"/>
<path d="M39.35,366.3 L41.75,366.3" fill="none" stroke="#505050" stroke-width="1.3"/>
<path d="M39.35,363.97 L41.75,363.97" fill="none" stroke="#505050" stroke-width="1.3"/>
<path d="M39.35,361.68 L41.75,361.68" fill="none" stroke="#505050" stroke-width="1.3"/>
<path d="M39.35,359.43 L41.75,359.43" fill="none" stroke="#505050" stroke-width="1.3"/>
<path d="M39.35,355.05 L41.75,355.05" fill="none" stroke="#505050" stroke-width="1.3"/>
<path d="M39.35,352.91 L41.75,352.91" fill="none" stroke="#505050" stroke-width="1.3"/>
<path d="M39.35,350.8 L41.75,350.8" fill="none" stroke="#505050" stroke-width="1.3"/>
<text x="0" y="0" font-size="13" text-anchor="middle" fill="#222" stroke="#222" stroke-width="0.15" transform="translate(15.8,473.2) rotate(-90)">Current efficiency (cd A<tspan dy="-5" font-size="8.5">−1</tspan><tspan dy="5">)</tspan></text>
<text x="187.4" y="636.8" font-size="13" text-anchor="middle" fill="#222" stroke="#222" stroke-width="0.15" >Current density (mA cm<tspan dy="-5" font-size="8.5">−2</tspan><tspan dy="5">)</tspan></text>
<clipPath id="cClip"><rect x="41.75" y="348.3" width="284.25" height="244.7"/></clipPath>
<g clip-path="url(#cClip)">
<path d="M54.5,525 L54.5,431 L60.8,378.3 L68.4,369.5 L84.8,367.9 L133.8,378" fill="none" stroke="#222" stroke-width="0.9" stroke-dasharray="1,1.6"/>
<path d="M55.3,392.5 L77.7,359.7 L100.7,366.2 L135.9,374.1 L198.2,388.5 L312.5,407.2" fill="none" stroke="#222" stroke-width="0.9" stroke-dasharray="1,1.6"/>
<path d="M54.5,445 L55.3,391.4 L57,369.5 L58.5,357.5 L67.9,355.3 L87,362.4 L139.5,382.9" fill="none" stroke="#111" stroke-width="1.0"/>
<path d="M55.3,397.4 L56.4,368.4 L60.2,361.3 L66.8,359.1 L78.8,357.5 L100.7,358.8 L135.9,364 L193,374.1 L285.5,387.9" fill="none" stroke="#ec2229" stroke-width="1.0"/>
<rect x="49.9" y="520.4" width="9.2" height="9.2" fill="#fff" stroke="#111" stroke-width="1.3"/>
<rect x="49.9" y="426.4" width="9.2" height="9.2" fill="#fff" stroke="#111" stroke-width="1.3"/>
<rect x="56.2" y="373.7" width="9.2" height="9.2" fill="#fff" stroke="#111" stroke-width="1.3"/>
<rect x="63.8" y="364.9" width="9.2" height="9.2" fill="#fff" stroke="#111" stroke-width="1.3"/>
<rect x="80.2" y="363.3" width="9.2" height="9.2" fill="#fff" stroke="#111" stroke-width="1.3"/>
<rect x="129.2" y="373.4" width="9.2" height="9.2" fill="#fff" stroke="#111" stroke-width="1.3"/>
<rect x="49.25" y="439.75" width="10.5" height="10.5" fill="#000"/>
<rect x="50.05" y="386.15" width="10.5" height="10.5" fill="#000"/>
<rect x="51.75" y="364.25" width="10.5" height="10.5" fill="#000"/>
<rect x="53.25" y="352.25" width="10.5" height="10.5" fill="#000"/>
<rect x="62.65" y="350.05" width="10.5" height="10.5" fill="#000"/>
<rect x="81.75" y="357.15" width="10.5" height="10.5" fill="#000"/>
<rect x="134.25" y="377.65" width="10.5" height="10.5" fill="#000"/>
<circle cx="55.3" cy="392.5" r="5.35" fill="#fff" stroke="#111" stroke-width="1.3"/>
<circle cx="77.7" cy="359.7" r="5.35" fill="#fff" stroke="#111" stroke-width="1.3"/>
<circle cx="100.7" cy="366.2" r="5.35" fill="#fff" stroke="#111" stroke-width="1.3"/>
<circle cx="135.9" cy="374.1" r="5.35" fill="#fff" stroke="#111" stroke-width="1.3"/>
<circle cx="198.2" cy="388.5" r="5.35" fill="#fff" stroke="#111" stroke-width="1.3"/>
<circle cx="312.5" cy="407.2" r="5.35" fill="#fff" stroke="#111" stroke-width="1.3"/>
<circle cx="55.3" cy="397.4" r="6" fill="#ec2229"/>
<circle cx="56.4" cy="368.4" r="6" fill="#ec2229"/>
<circle cx="60.2" cy="361.3" r="6" fill="#ec2229"/>
<circle cx="66.8" cy="359.1" r="6" fill="#ec2229"/>
<circle cx="78.8" cy="357.5" r="6" fill="#ec2229"/>
<circle cx="100.7" cy="358.8" r="6" fill="#ec2229"/>
<circle cx="135.9" cy="364" r="6" fill="#ec2229"/>
<circle cx="193" cy="374.1" r="6" fill="#ec2229"/>
<circle cx="285.5" cy="387.9" r="6" fill="#ec2229"/>
</g>
<rect x="111.9" y="407.5" width="180.7" height="155.6" fill="#fff" stroke="#6e6e6e" stroke-width="1"/>
<path d="M127,563.1 L127,566.6" fill="none" stroke="#6e6e6e" stroke-width="1"/>
<text x="127" y="577" font-size="11" text-anchor="middle" fill="#222" stroke="#222" stroke-width="0.15" >2</text>
<path d="M157.2,563.1 L157.2,566.6" fill="none" stroke="#6e6e6e" stroke-width="1"/>
<text x="157.2" y="577" font-size="11" text-anchor="middle" fill="#222" stroke="#222" stroke-width="0.15" >3</text>
<path d="M187.4,563.1 L187.4,566.6" fill="none" stroke="#6e6e6e" stroke-width="1"/>
<text x="187.4" y="577" font-size="11" text-anchor="middle" fill="#222" stroke="#222" stroke-width="0.15" >4</text>
<path d="M217.6,563.1 L217.6,566.6" fill="none" stroke="#6e6e6e" stroke-width="1"/>
<text x="217.6" y="577" font-size="11" text-anchor="middle" fill="#222" stroke="#222" stroke-width="0.15" >5</text>
<path d="M247.8,563.1 L247.8,566.6" fill="none" stroke="#6e6e6e" stroke-width="1"/>
<text x="247.8" y="577" font-size="11" text-anchor="middle" fill="#222" stroke="#222" stroke-width="0.15" >6</text>
<path d="M278,563.1 L278,566.6" fill="none" stroke="#6e6e6e" stroke-width="1"/>
<text x="278" y="577" font-size="11" text-anchor="middle" fill="#222" stroke="#222" stroke-width="0.15" >7</text>
<path d="M142.1,563.1 L142.1,565.1" fill="none" stroke="#6e6e6e" stroke-width="1"/>
<path d="M172.3,563.1 L172.3,565.1" fill="none" stroke="#6e6e6e" stroke-width="1"/>
<path d="M202.5,563.1 L202.5,565.1" fill="none" stroke="#6e6e6e" stroke-width="1"/>
<path d="M232.7,563.1 L232.7,565.1" fill="none" stroke="#6e6e6e" stroke-width="1"/>
<path d="M262.9,563.1 L262.9,565.1" fill="none" stroke="#6e6e6e" stroke-width="1"/>
<path d="M108.4,563.1 L111.9,563.1" fill="none" stroke="#6e6e6e" stroke-width="1"/>
<text x="107" y="569.1" font-size="11" text-anchor="end" fill="#222" stroke="#222" stroke-width="0.15">10<tspan dy="-4.5" font-size="7.5">−3</tspan></text>
<path d="M109.9,555.29 L111.9,555.29" fill="none" stroke="#6e6e6e" stroke-width="0.9"/>
<path d="M109.9,550.73 L111.9,550.73" fill="none" stroke="#6e6e6e" stroke-width="0.9"/>
<path d="M109.9,547.49 L111.9,547.49" fill="none" stroke="#6e6e6e" stroke-width="0.9"/>
<path d="M109.9,544.98 L111.9,544.98" fill="none" stroke="#6e6e6e" stroke-width="0.9"/>
<path d="M109.9,542.92 L111.9,542.92" fill="none" stroke="#6e6e6e" stroke-width="0.9"/>
<path d="M109.9,541.19 L111.9,541.19" fill="none" stroke="#6e6e6e" stroke-width="0.9"/>
<path d="M109.9,539.68 L111.9,539.68" fill="none" stroke="#6e6e6e" stroke-width="0.9"/>
<path d="M109.9,538.36 L111.9,538.36" fill="none" stroke="#6e6e6e" stroke-width="0.9"/>
<path d="M108.4,537.17 L111.9,537.17" fill="none" stroke="#6e6e6e" stroke-width="1"/>
<text x="107" y="543.17" font-size="11" text-anchor="end" fill="#222" stroke="#222" stroke-width="0.15">10<tspan dy="-4.5" font-size="7.5">−2</tspan></text>
<path d="M109.9,529.36 L111.9,529.36" fill="none" stroke="#6e6e6e" stroke-width="0.9"/>
<path d="M109.9,524.8 L111.9,524.8" fill="none" stroke="#6e6e6e" stroke-width="0.9"/>
<path d="M109.9,521.56 L111.9,521.56" fill="none" stroke="#6e6e6e" stroke-width="0.9"/>
<path d="M109.9,519.05 L111.9,519.05" fill="none" stroke="#6e6e6e" stroke-width="0.9"/>
<path d="M109.9,516.99 L111.9,516.99" fill="none" stroke="#6e6e6e" stroke-width="0.9"/>
<path d="M109.9,515.26 L111.9,515.26" fill="none" stroke="#6e6e6e" stroke-width="0.9"/>
<path d="M109.9,513.75 L111.9,513.75" fill="none" stroke="#6e6e6e" stroke-width="0.9"/>
<path d="M109.9,512.43 L111.9,512.43" fill="none" stroke="#6e6e6e" stroke-width="0.9"/>
<path d="M108.4,511.24 L111.9,511.24" fill="none" stroke="#6e6e6e" stroke-width="1"/>
<text x="107" y="517.24" font-size="11" text-anchor="end" fill="#222" stroke="#222" stroke-width="0.15">10<tspan dy="-4.5" font-size="7.5">−1</tspan></text>
<path d="M109.9,503.43 L111.9,503.43" fill="none" stroke="#6e6e6e" stroke-width="0.9"/>
<path d="M109.9,498.87 L111.9,498.87" fill="none" stroke="#6e6e6e" stroke-width="0.9"/>
<path d="M109.9,495.63 L111.9,495.63" fill="none" stroke="#6e6e6e" stroke-width="0.9"/>
<path d="M109.9,493.12 L111.9,493.12" fill="none" stroke="#6e6e6e" stroke-width="0.9"/>
<path d="M109.9,491.06 L111.9,491.06" fill="none" stroke="#6e6e6e" stroke-width="0.9"/>
<path d="M109.9,489.33 L111.9,489.33" fill="none" stroke="#6e6e6e" stroke-width="0.9"/>
<path d="M109.9,487.82 L111.9,487.82" fill="none" stroke="#6e6e6e" stroke-width="0.9"/>
<path d="M109.9,486.5 L111.9,486.5" fill="none" stroke="#6e6e6e" stroke-width="0.9"/>
<path d="M108.4,485.31 L111.9,485.31" fill="none" stroke="#6e6e6e" stroke-width="1"/>
<text x="107" y="491.31" font-size="11" text-anchor="end" fill="#222" stroke="#222" stroke-width="0.15">10<tspan dy="-4.5" font-size="7.5">0</tspan></text>
<path d="M109.9,477.5 L111.9,477.5" fill="none" stroke="#6e6e6e" stroke-width="0.9"/>
<path d="M109.9,472.94 L111.9,472.94" fill="none" stroke="#6e6e6e" stroke-width="0.9"/>
<path d="M109.9,469.7 L111.9,469.7" fill="none" stroke="#6e6e6e" stroke-width="0.9"/>
<path d="M109.9,467.19 L111.9,467.19" fill="none" stroke="#6e6e6e" stroke-width="0.9"/>
<path d="M109.9,465.13 L111.9,465.13" fill="none" stroke="#6e6e6e" stroke-width="0.9"/>
<path d="M109.9,463.4 L111.9,463.4" fill="none" stroke="#6e6e6e" stroke-width="0.9"/>
<path d="M109.9,461.89 L111.9,461.89" fill="none" stroke="#6e6e6e" stroke-width="0.9"/>
<path d="M109.9,460.57 L111.9,460.57" fill="none" stroke="#6e6e6e" stroke-width="0.9"/>
<path d="M108.4,459.38 L111.9,459.38" fill="none" stroke="#6e6e6e" stroke-width="1"/>
<text x="107" y="465.38" font-size="11" text-anchor="end" fill="#222" stroke="#222" stroke-width="0.15">10<tspan dy="-4.5" font-size="7.5">1</tspan></text>
<path d="M109.9,451.57 L111.9,451.57" fill="none" stroke="#6e6e6e" stroke-width="0.9"/>
<path d="M109.9,447.01 L111.9,447.01" fill="none" stroke="#6e6e6e" stroke-width="0.9"/>
<path d="M109.9,443.77 L111.9,443.77" fill="none" stroke="#6e6e6e" stroke-width="0.9"/>
<path d="M109.9,441.26 L111.9,441.26" fill="none" stroke="#6e6e6e" stroke-width="0.9"/>
<path d="M109.9,439.2 L111.9,439.2" fill="none" stroke="#6e6e6e" stroke-width="0.9"/>
<path d="M109.9,437.47 L111.9,437.47" fill="none" stroke="#6e6e6e" stroke-width="0.9"/>
<path d="M109.9,435.96 L111.9,435.96" fill="none" stroke="#6e6e6e" stroke-width="0.9"/>
<path d="M109.9,434.64 L111.9,434.64" fill="none" stroke="#6e6e6e" stroke-width="0.9"/>
<path d="M108.4,433.45 L111.9,433.45" fill="none" stroke="#6e6e6e" stroke-width="1"/>
<text x="107" y="439.45" font-size="11" text-anchor="end" fill="#222" stroke="#222" stroke-width="0.15">10<tspan dy="-4.5" font-size="7.5">2</tspan></text>
<path d="M109.9,425.64 L111.9,425.64" fill="none" stroke="#6e6e6e" stroke-width="0.9"/>
<path d="M109.9,421.08 L111.9,421.08" fill="none" stroke="#6e6e6e" stroke-width="0.9"/>
<path d="M109.9,417.84 L111.9,417.84" fill="none" stroke="#6e6e6e" stroke-width="0.9"/>
<path d="M109.9,415.33 L111.9,415.33" fill="none" stroke="#6e6e6e" stroke-width="0.9"/>
<path d="M109.9,413.27 L111.9,413.27" fill="none" stroke="#6e6e6e" stroke-width="0.9"/>
<path d="M109.9,411.54 L111.9,411.54" fill="none" stroke="#6e6e6e" stroke-width="0.9"/>
<path d="M109.9,410.03 L111.9,410.03" fill="none" stroke="#6e6e6e" stroke-width="0.9"/>
<path d="M109.9,408.71 L111.9,408.71" fill="none" stroke="#6e6e6e" stroke-width="0.9"/>
<path d="M108.4,407.52 L111.9,407.52" fill="none" stroke="#6e6e6e" stroke-width="1"/>
<text x="107" y="413.52" font-size="11" text-anchor="end" fill="#222" stroke="#222" stroke-width="0.15">10<tspan dy="-4.5" font-size="7.5">3</tspan></text>
<text x="0" y="0" font-size="10.8" text-anchor="middle" fill="#222" stroke="#222" stroke-width="0.15" transform="translate(78.6,488.5) rotate(-90)">Current density (mA cm<tspan dy="-4.5" font-size="7.5">−2</tspan><tspan dy="4.5">)</tspan></text>
<text x="203" y="588.5" font-size="11.2" text-anchor="middle" fill="#222" stroke="#222" stroke-width="0.15" >Voltage (V)</text>
<path d="M142.1,500.5 L157.2,479 L172.3,467 L187.4,458 L202.5,449.5 L217.6,441.5 L232.7,434 L247.8,428 L262.9,421.5 L278,415" fill="none" stroke="#333" stroke-width="0.8" stroke-dasharray="1,1.5"/>
<path d="M142.1,499 L157.2,477.1 L172.3,465 L187.4,456.5 L202.5,449.5 L217.6,442 L232.7,435 L247.8,428.5 L262.9,422.2 L278,414" fill="none" stroke="#333" stroke-width="0.8" stroke-dasharray="1,1.5"/>
<path d="M127,550 L142.1,502 L157.2,483 L172.3,470 L187.4,459 L202.5,448.4 L217.6,438 L232.7,428" fill="none" stroke="#111" stroke-width="0.9"/>
<path d="M127,555.7 L142.1,502.3 L157.2,483.6 L172.3,470.6 L187.4,459.6 L202.5,449.8 L217.6,442 L232.7,435 L247.8,428.5 L262.9,422.2 L278,416.4" fill="none" stroke="#ec2229" stroke-width="0.9"/>
<circle cx="142.1" cy="499" r="4.05" fill="#fff" stroke="#111" stroke-width="1.1"/>
<circle cx="157.2" cy="477.1" r="4.05" fill="#fff" stroke="#111" stroke-width="1.1"/>
<circle cx="172.3" cy="465" r="4.05" fill="#fff" stroke="#111" stroke-width="1.1"/>
<circle cx="187.4" cy="456.5" r="4.05" fill="#fff" stroke="#111" stroke-width="1.1"/>
<circle cx="202.5" cy="449.5" r="4.05" fill="#fff" stroke="#111" stroke-width="1.1"/>
<circle cx="217.6" cy="442" r="4.05" fill="#fff" stroke="#111" stroke-width="1.1"/>
<circle cx="232.7" cy="435" r="4.05" fill="#fff" stroke="#111" stroke-width="1.1"/>
<circle cx="247.8" cy="428.5" r="4.05" fill="#fff" stroke="#111" stroke-width="1.1"/>
<circle cx="262.9" cy="422.2" r="4.05" fill="#fff" stroke="#111" stroke-width="1.1"/>
<circle cx="278" cy="414" r="4.05" fill="#fff" stroke="#111" stroke-width="1.1"/>
<rect x="122.9" y="545.9" width="8.2" height="8.2" fill="#000"/>
<rect x="138" y="497.9" width="8.2" height="8.2" fill="#000"/>
<rect x="153.1" y="478.9" width="8.2" height="8.2" fill="#000"/>
<rect x="168.2" y="465.9" width="8.2" height="8.2" fill="#000"/>
<rect x="183.3" y="454.9" width="8.2" height="8.2" fill="#000"/>
<rect x="198.4" y="444.3" width="8.2" height="8.2" fill="#000"/>
<rect x="213.5" y="433.9" width="8.2" height="8.2" fill="#000"/>
<rect x="228.6" y="423.9" width="8.2" height="8.2" fill="#000"/>
<circle cx="127" cy="555.7" r="4.7" fill="#ec2229"/>
<circle cx="142.1" cy="502.3" r="4.7" fill="#ec2229"/>
<circle cx="157.2" cy="483.6" r="4.7" fill="#ec2229"/>
<circle cx="172.3" cy="470.6" r="4.7" fill="#ec2229"/>
<circle cx="187.4" cy="459.6" r="4.7" fill="#ec2229"/>
<circle cx="202.5" cy="449.8" r="4.7" fill="#ec2229"/>
<circle cx="217.6" cy="442" r="4.7" fill="#ec2229"/>
<circle cx="232.7" cy="435" r="4.7" fill="#ec2229"/>
<circle cx="247.8" cy="428.5" r="4.7" fill="#ec2229"/>
<circle cx="262.9" cy="422.2" r="4.7" fill="#ec2229"/>
<circle cx="278" cy="416.4" r="4.7" fill="#ec2229"/>
<path d="M170.2,506.8 L194.7,506.8" fill="none" stroke="#111" stroke-width="1.0"/>
<rect x="177.5" y="501.8" width="10" height="10" fill="#000"/>
<text x="198.4" y="510.6" font-size="10.9" text-anchor="start" fill="#222" stroke="#222" stroke-width="0.15" >PAP on PEN</text>
<path d="M170.2,521.7 L194.7,521.7" fill="none" stroke="#ec2229" stroke-width="1.0"/>
<circle cx="182.5" cy="521.7" r="5.8" fill="#ec2229"/>
<text x="198.4" y="525.5" font-size="10.9" text-anchor="start" fill="#222" stroke="#222" stroke-width="0.15" >PAP on glass</text>
<path d="M170.2,536.6 L194.7,536.6" fill="none" stroke="#333" stroke-width="0.8" stroke-dasharray="1,1.5"/>
<rect x="178.1" y="532.2" width="8.8" height="8.8" fill="#fff" stroke="#111" stroke-width="1.2"/>
<text x="198.4" y="540.4" font-size="10.9" text-anchor="start" fill="#222" stroke="#222" stroke-width="0.15" >ITO on PEN</text>
<path d="M170.2,551.3 L194.7,551.3" fill="none" stroke="#333" stroke-width="0.8" stroke-dasharray="1,1.5"/>
<circle cx="182.5" cy="551.3" r="5.2" fill="#fff" stroke="#111" stroke-width="1.2"/>
<text x="198.4" y="555.1" font-size="10.9" text-anchor="start" fill="#222" stroke="#222" stroke-width="0.15" >ITO on glass</text>
<rect x="400.2" y="347.6" width="283.3" height="245.2" fill="none" stroke="#505050" stroke-width="1.3"/>
<path d="M414.55,592.8 L414.55,597.3" fill="none" stroke="#505050" stroke-width="1.3"/>
<text x="414.55" y="612.8" font-size="13" text-anchor="middle" fill="#222" stroke="#222" stroke-width="0.15" >400</text>
<path d="M449.94,592.8 L449.94,597.3" fill="none" stroke="#505050" stroke-width="1.3"/>
<text x="449.94" y="612.8" font-size="13" text-anchor="middle" fill="#222" stroke="#222" stroke-width="0.15" >450</text>
<path d="M485.32,592.8 L485.32,597.3" fill="none" stroke="#505050" stroke-width="1.3"/>
<text x="485.32" y="612.8" font-size="13" text-anchor="middle" fill="#222" stroke="#222" stroke-width="0.15" >500</text>
<path d="M520.71,592.8 L520.71,597.3" fill="none" stroke="#505050" stroke-width="1.3"/>
<text x="520.71" y="612.8" font-size="13" text-anchor="middle" fill="#222" stroke="#222" stroke-width="0.15" >550</text>
<path d="M556.09,592.8 L556.09,597.3" fill="none" stroke="#505050" stroke-width="1.3"/>
<text x="556.09" y="612.8" font-size="13" text-anchor="middle" fill="#222" stroke="#222" stroke-width="0.15" >600</text>
<path d="M591.48,592.8 L591.48,597.3" fill="none" stroke="#505050" stroke-width="1.3"/>
<text x="591.48" y="612.8" font-size="13" text-anchor="middle" fill="#222" stroke="#222" stroke-width="0.15" >650</text>
<path d="M626.86,592.8 L626.86,597.3" fill="none" stroke="#505050" stroke-width="1.3"/>
<text x="626.86" y="612.8" font-size="13" text-anchor="middle" fill="#222" stroke="#222" stroke-width="0.15" >700</text>
<path d="M662.25,592.8 L662.25,597.3" fill="none" stroke="#505050" stroke-width="1.3"/>
<text x="662.25" y="612.8" font-size="13" text-anchor="middle" fill="#222" stroke="#222" stroke-width="0.15" >750</text>
<path d="M432.25,592.8 L432.25,595.3" fill="none" stroke="#505050" stroke-width="1.3"/>
<path d="M467.63,592.8 L467.63,595.3" fill="none" stroke="#505050" stroke-width="1.3"/>
<path d="M503.02,592.8 L503.02,595.3" fill="none" stroke="#505050" stroke-width="1.3"/>
<path d="M538.4,592.8 L538.4,595.3" fill="none" stroke="#505050" stroke-width="1.3"/>
<path d="M573.79,592.8 L573.79,595.3" fill="none" stroke="#505050" stroke-width="1.3"/>
<path d="M609.17,592.8 L609.17,595.3" fill="none" stroke="#505050" stroke-width="1.3"/>
<path d="M644.56,592.8 L644.56,595.3" fill="none" stroke="#505050" stroke-width="1.3"/>
<path d="M679.94,592.8 L679.94,595.3" fill="none" stroke="#505050" stroke-width="1.3"/>
<path d="M395.7,592.8 L400.2,592.8" fill="none" stroke="#505050" stroke-width="1.3"/>
<text x="391.6" y="597.2" font-size="13" text-anchor="end" fill="#222" stroke="#222" stroke-width="0.15" >0.0</text>
<path d="M395.7,548.3 L400.2,548.3" fill="none" stroke="#505050" stroke-width="1.3"/>
<text x="391.6" y="552.7" font-size="13" text-anchor="end" fill="#222" stroke="#222" stroke-width="0.15" >0.2</text>
<path d="M395.7,503.8 L400.2,503.8" fill="none" stroke="#505050" stroke-width="1.3"/>
<text x="391.6" y="508.2" font-size="13" text-anchor="end" fill="#222" stroke="#222" stroke-width="0.15" >0.4</text>
<path d="M395.7,459.3 L400.2,459.3" fill="none" stroke="#505050" stroke-width="1.3"/>
<text x="391.6" y="463.7" font-size="13" text-anchor="end" fill="#222" stroke="#222" stroke-width="0.15" >0.6</text>
<path d="M395.7,414.8 L400.2,414.8" fill="none" stroke="#505050" stroke-width="1.3"/>
<text x="391.6" y="419.2" font-size="13" text-anchor="end" fill="#222" stroke="#222" stroke-width="0.15" >0.8</text>
<path d="M395.7,370.3 L400.2,370.3" fill="none" stroke="#505050" stroke-width="1.3"/>
<text x="391.6" y="374.7" font-size="13" text-anchor="end" fill="#222" stroke="#222" stroke-width="0.15" >1.0</text>
<path d="M397.7,570.55 L400.2,570.55" fill="none" stroke="#505050" stroke-width="1.3"/>
<path d="M397.7,526.05 L400.2,526.05" fill="none" stroke="#505050" stroke-width="1.3"/>
<path d="M397.7,481.55 L400.2,481.55" fill="none" stroke="#505050" stroke-width="1.3"/>
<path d="M397.7,437.05 L400.2,437.05" fill="none" stroke="#505050" stroke-width="1.3"/>
<path d="M397.7,392.55 L400.2,392.55" fill="none" stroke="#505050" stroke-width="1.3"/>
<path d="M397.7,348.05 L400.2,348.05" fill="none" stroke="#505050" stroke-width="1.3"/>
<text x="0" y="0" font-size="13" text-anchor="middle" fill="#222" stroke="#222" stroke-width="0.15" transform="translate(363.2,470.9) rotate(-90)">EL intensity (normalized)</text>
<text x="540.6" y="637.2" font-size="13" text-anchor="middle" fill="#222" stroke="#222" stroke-width="0.15" >Wavelength (nm)</text>
<clipPath id="dClip"><rect x="400.8" y="347.6" width="282.7" height="244.6"/></clipPath>
<g clip-path="url(#dClip)">
<path d="M400.4,591.46 L407.48,591.46 L414.55,591.46 L421.63,591.46 L428.71,591.46 L435.78,591.46 L442.86,591.46 L449.94,591.46 L457.02,591.46 L464.09,591.46 L471.17,591.46 L478.25,591.46 L485.32,581.67 L492.4,561.65 L499.48,520.26 L506.55,453.96 L513.63,392.55 L520.71,372.52 L527.79,372.52 L534.86,381.42 L541.94,388.1 L549.02,400.34 L556.09,423.7 L563.17,445.95 L570.25,472.65 L577.33,493.79 L584.4,512.7 L591.48,528.27 L598.56,542.74 L605.63,554.97 L612.71,563.88 L619.79,570.55 L626.86,576.11 L633.94,579.89 L641.02,582.79 L648.1,584.79 L655.17,586.12 L662.25,587.01 L669.33,587.46 L676.4,587.9 L683.48,588.35" fill="none" stroke="#333" stroke-width="0.8" stroke-dasharray="1,1.5"/>
<path d="M400.4,591.46 L407.48,591.46 L414.55,591.46 L421.63,591.46 L428.71,591.46 L435.78,591.46 L442.86,591.46 L449.94,591.46 L457.02,591.46 L464.09,591.46 L471.17,591.46 L478.25,591.46 L485.32,583.9 L492.4,565.21 L499.48,524.27 L506.55,457.07 L513.63,399.22 L520.71,374.75 L527.79,370.3 L534.86,374.75 L541.94,379.2 L549.02,388.1 L556.09,405.9 L563.17,430.38 L570.25,457.07 L577.33,479.32 L584.4,498.24 L591.48,514.92 L598.56,530.05 L605.63,542.51 L612.71,553.86 L619.79,562.54 L626.86,570.1 L633.94,575 L641.02,578.78 L648.1,581.23 L655.17,583.01 L662.25,583.9 L669.33,584.57 L676.4,585.01 L683.48,585.46" fill="none" stroke="#333" stroke-width="0.8" stroke-dasharray="1,1.5"/>
<path d="M400.4,591.46 L407.48,591.46 L414.55,591.46 L421.63,591.46 L428.71,591.46 L435.78,591.46 L442.86,591.46 L449.94,591.46 L457.02,591.46 L464.09,591.46 L471.17,591.46 L478.25,591.46 L485.32,582.56 L492.4,568.32 L499.48,534.95 L506.55,464.42 L513.63,397 L520.71,370.3 L527.79,380.76 L534.86,397.22 L541.94,415.91 L549.02,437.05 L556.09,463.75 L563.17,491.34 L570.25,513.37 L577.33,532.06 L584.4,546.3 L591.48,556.31 L598.56,564.99 L605.63,572.55 L612.71,578.78 L619.79,582.56 L626.86,586.12 L633.94,588.35 L641.02,590.13 L648.1,590.57 L655.17,590.57 L662.25,590.57 L669.33,590.57 L676.4,590.57 L683.48,590.57" fill="none" stroke="#111" stroke-width="0.9"/>
<path d="M400.4,591.46 L407.48,591.46 L414.55,591.46 L421.63,591.46 L428.71,591.46 L435.78,591.46 L442.86,591.46 L449.94,591.46 L457.02,591.46 L464.09,591.46 L471.17,591.46 L478.25,591.46 L485.32,586.57 L492.4,575.44 L499.48,544.52 L506.55,484.44 L513.63,417.02 L520.71,376.97 L527.79,370.3 L534.86,374.75 L541.94,382.31 L549.02,397.22 L556.09,421.47 L563.17,451.29 L570.25,479.99 L577.33,503.8 L584.4,522.49 L591.48,538.29 L598.56,550.75 L605.63,561.2 L612.71,570.55 L619.79,576.33 L626.86,581.23 L633.94,583.9 L641.02,585.68 L648.1,586.79 L655.17,587.46 L662.25,587.9 L669.33,588.13 L676.4,588.35 L683.48,588.35" fill="none" stroke="#ec2229" stroke-width="0.9"/>
<rect x="395.8" y="586.86" width="9.2" height="9.2" fill="#fff" stroke="#111" stroke-width="1.3"/>
<rect x="402.88" y="586.86" width="9.2" height="9.2" fill="#fff" stroke="#111" stroke-width="1.3"/>
<rect x="409.95" y="586.86" width="9.2" height="9.2" fill="#fff" stroke="#111" stroke-width="1.3"/>
<rect x="417.03" y="586.86" width="9.2" height="9.2" fill="#fff" stroke="#111" stroke-width="1.3"/>
<rect x="424.11" y="586.86" width="9.2" height="9.2" fill="#fff" stroke="#111" stroke-width="1.3"/>
<rect x="431.18" y="586.86" width="9.2" height="9.2" fill="#fff" stroke="#111" stroke-width="1.3"/>
<rect x="438.26" y="586.86" width="9.2" height="9.2" fill="#fff" stroke="#111" stroke-width="1.3"/>
<rect x="445.34" y="586.86" width="9.2" height="9.2" fill="#fff" stroke="#111" stroke-width="1.3"/>
<rect x="452.42" y="586.86" width="9.2" height="9.2" fill="#fff" stroke="#111" stroke-width="1.3"/>
<rect x="459.49" y="586.86" width="9.2" height="9.2" fill="#fff" stroke="#111" stroke-width="1.3"/>
<rect x="466.57" y="586.86" width="9.2" height="9.2" fill="#fff" stroke="#111" stroke-width="1.3"/>
<rect x="473.65" y="586.86" width="9.2" height="9.2" fill="#fff" stroke="#111" stroke-width="1.3"/>
<rect x="480.72" y="577.07" width="9.2" height="9.2" fill="#fff" stroke="#111" stroke-width="1.3"/>
<rect x="487.8" y="557.05" width="9.2" height="9.2" fill="#fff" stroke="#111" stroke-width="1.3"/>
<rect x="494.88" y="515.66" width="9.2" height="9.2" fill="#fff" stroke="#111" stroke-width="1.3"/>
<rect x="501.95" y="449.36" width="9.2" height="9.2" fill="#fff" stroke="#111" stroke-width="1.3"/>
<rect x="509.03" y="387.95" width="9.2" height="9.2" fill="#fff" stroke="#111" stroke-width="1.3"/>
<rect x="516.11" y="367.92" width="9.2" height="9.2" fill="#fff" stroke="#111" stroke-width="1.3"/>
<rect x="523.19" y="367.92" width="9.2" height="9.2" fill="#fff" stroke="#111" stroke-width="1.3"/>
<rect x="530.26" y="376.82" width="9.2" height="9.2" fill="#fff" stroke="#111" stroke-width="1.3"/>
<rect x="537.34" y="383.5" width="9.2" height="9.2" fill="#fff" stroke="#111" stroke-width="1.3"/>
<rect x="544.42" y="395.74" width="9.2" height="9.2" fill="#fff" stroke="#111" stroke-width="1.3"/>
<rect x="551.49" y="419.1" width="9.2" height="9.2" fill="#fff" stroke="#111" stroke-width="1.3"/>
<rect x="558.57" y="441.35" width="9.2" height="9.2" fill="#fff" stroke="#111" stroke-width="1.3"/>
<rect x="565.65" y="468.05" width="9.2" height="9.2" fill="#fff" stroke="#111" stroke-width="1.3"/>
<rect x="572.73" y="489.19" width="9.2" height="9.2" fill="#fff" stroke="#111" stroke-width="1.3"/>
<rect x="579.8" y="508.1" width="9.2" height="9.2" fill="#fff" stroke="#111" stroke-width="1.3"/>
<rect x="586.88" y="523.67" width="9.2" height="9.2" fill="#fff" stroke="#111" stroke-width="1.3"/>
<rect x="593.96" y="538.14" width="9.2" height="9.2" fill="#fff" stroke="#111" stroke-width="1.3"/>
<rect x="601.03" y="550.37" width="9.2" height="9.2" fill="#fff" stroke="#111" stroke-width="1.3"/>
<rect x="608.11" y="559.27" width="9.2" height="9.2" fill="#fff" stroke="#111" stroke-width="1.3"/>
<rect x="615.19" y="565.95" width="9.2" height="9.2" fill="#fff" stroke="#111" stroke-width="1.3"/>
<rect x="622.26" y="571.51" width="9.2" height="9.2" fill="#fff" stroke="#111" stroke-width="1.3"/>
<rect x="629.34" y="575.29" width="9.2" height="9.2" fill="#fff" stroke="#111" stroke-width="1.3"/>
<rect x="636.42" y="578.19" width="9.2" height="9.2" fill="#fff" stroke="#111" stroke-width="1.3"/>
<rect x="643.5" y="580.19" width="9.2" height="9.2" fill="#fff" stroke="#111" stroke-width="1.3"/>
<rect x="650.57" y="581.52" width="9.2" height="9.2" fill="#fff" stroke="#111" stroke-width="1.3"/>
<rect x="657.65" y="582.41" width="9.2" height="9.2" fill="#fff" stroke="#111" stroke-width="1.3"/>
<rect x="664.73" y="582.86" width="9.2" height="9.2" fill="#fff" stroke="#111" stroke-width="1.3"/>
<rect x="671.8" y="583.3" width="9.2" height="9.2" fill="#fff" stroke="#111" stroke-width="1.3"/>
<rect x="678.88" y="583.75" width="9.2" height="9.2" fill="#fff" stroke="#111" stroke-width="1.3"/>
<circle cx="400.4" cy="591.46" r="5.35" fill="#fff" stroke="#111" stroke-width="1.3"/>
<circle cx="407.48" cy="591.46" r="5.35" fill="#fff" stroke="#111" stroke-width="1.3"/>
<circle cx="414.55" cy="591.46" r="5.35" fill="#fff" stroke="#111" stroke-width="1.3"/>
<circle cx="421.63" cy="591.46" r="5.35" fill="#fff" stroke="#111" stroke-width="1.3"/>
<circle cx="428.71" cy="591.46" r="5.35" fill="#fff" stroke="#111" stroke-width="1.3"/>
<circle cx="435.78" cy="591.46" r="5.35" fill="#fff" stroke="#111" stroke-width="1.3"/>
<circle cx="442.86" cy="591.46" r="5.35" fill="#fff" stroke="#111" stroke-width="1.3"/>
<circle cx="449.94" cy="591.46" r="5.35" fill="#fff" stroke="#111" stroke-width="1.3"/>
<circle cx="457.02" cy="591.46" r="5.35" fill="#fff" stroke="#111" stroke-width="1.3"/>
<circle cx="464.09" cy="591.46" r="5.35" fill="#fff" stroke="#111" stroke-width="1.3"/>
<circle cx="471.17" cy="591.46" r="5.35" fill="#fff" stroke="#111" stroke-width="1.3"/>
<circle cx="478.25" cy="591.46" r="5.35" fill="#fff" stroke="#111" stroke-width="1.3"/>
<circle cx="485.32" cy="583.9" r="5.35" fill="#fff" stroke="#111" stroke-width="1.3"/>
<circle cx="492.4" cy="565.21" r="5.35" fill="#fff" stroke="#111" stroke-width="1.3"/>
<circle cx="499.48" cy="524.27" r="5.35" fill="#fff" stroke="#111" stroke-width="1.3"/>
<circle cx="506.55" cy="457.07" r="5.35" fill="#fff" stroke="#111" stroke-width="1.3"/>
<circle cx="513.63" cy="399.22" r="5.35" fill="#fff" stroke="#111" stroke-width="1.3"/>
<circle cx="520.71" cy="374.75" r="5.35" fill="#fff" stroke="#111" stroke-width="1.3"/>
<circle cx="527.79" cy="370.3" r="5.35" fill="#fff" stroke="#111" stroke-width="1.3"/>
<circle cx="534.86" cy="374.75" r="5.35" fill="#fff" stroke="#111" stroke-width="1.3"/>
<circle cx="541.94" cy="379.2" r="5.35" fill="#fff" stroke="#111" stroke-width="1.3"/>
<circle cx="549.02" cy="388.1" r="5.35" fill="#fff" stroke="#111" stroke-width="1.3"/>
<circle cx="556.09" cy="405.9" r="5.35" fill="#fff" stroke="#111" stroke-width="1.3"/>
<circle cx="563.17" cy="430.38" r="5.35" fill="#fff" stroke="#111" stroke-width="1.3"/>
<circle cx="570.25" cy="457.07" r="5.35" fill="#fff" stroke="#111" stroke-width="1.3"/>
<circle cx="577.33" cy="479.32" r="5.35" fill="#fff" stroke="#111" stroke-width="1.3"/>
<circle cx="584.4" cy="498.24" r="5.35" fill="#fff" stroke="#111" stroke-width="1.3"/>
<circle cx="591.48" cy="514.92" r="5.35" fill="#fff" stroke="#111" stroke-width="1.3"/>
<circle cx="598.56" cy="530.05" r="5.35" fill="#fff" stroke="#111" stroke-width="1.3"/>
<circle cx="605.63" cy="542.51" r="5.35" fill="#fff" stroke="#111" stroke-width="1.3"/>
<circle cx="612.71" cy="553.86" r="5.35" fill="#fff" stroke="#111" stroke-width="1.3"/>
<circle cx="619.79" cy="562.54" r="5.35" fill="#fff" stroke="#111" stroke-width="1.3"/>
<circle cx="626.86" cy="570.1" r="5.35" fill="#fff" stroke="#111" stroke-width="1.3"/>
<circle cx="633.94" cy="575" r="5.35" fill="#fff" stroke="#111" stroke-width="1.3"/>
<circle cx="641.02" cy="578.78" r="5.35" fill="#fff" stroke="#111" stroke-width="1.3"/>
<circle cx="648.1" cy="581.23" r="5.35" fill="#fff" stroke="#111" stroke-width="1.3"/>
<circle cx="655.17" cy="583.01" r="5.35" fill="#fff" stroke="#111" stroke-width="1.3"/>
<circle cx="662.25" cy="583.9" r="5.35" fill="#fff" stroke="#111" stroke-width="1.3"/>
<circle cx="669.33" cy="584.57" r="5.35" fill="#fff" stroke="#111" stroke-width="1.3"/>
<circle cx="676.4" cy="585.01" r="5.35" fill="#fff" stroke="#111" stroke-width="1.3"/>
<circle cx="683.48" cy="585.46" r="5.35" fill="#fff" stroke="#111" stroke-width="1.3"/>
<rect x="395.15" y="586.21" width="10.5" height="10.5" fill="#000"/>
<rect x="402.23" y="586.21" width="10.5" height="10.5" fill="#000"/>
<rect x="409.3" y="586.21" width="10.5" height="10.5" fill="#000"/>
<rect x="416.38" y="586.21" width="10.5" height="10.5" fill="#000"/>
<rect x="423.46" y="586.21" width="10.5" height="10.5" fill="#000"/>
<rect x="430.53" y="586.21" width="10.5" height="10.5" fill="#000"/>
<rect x="437.61" y="586.21" width="10.5" height="10.5" fill="#000"/>
<rect x="444.69" y="586.21" width="10.5" height="10.5" fill="#000"/>
<rect x="451.77" y="586.21" width="10.5" height="10.5" fill="#000"/>
<rect x="458.84" y="586.21" width="10.5" height="10.5" fill="#000"/>
<rect x="465.92" y="586.21" width="10.5" height="10.5" fill="#000"/>
<rect x="473" y="586.21" width="10.5" height="10.5" fill="#000"/>
<rect x="480.07" y="577.31" width="10.5" height="10.5" fill="#000"/>
<rect x="487.15" y="563.07" width="10.5" height="10.5" fill="#000"/>
<rect x="494.23" y="529.7" width="10.5" height="10.5" fill="#000"/>
<rect x="501.3" y="459.17" width="10.5" height="10.5" fill="#000"/>
<rect x="508.38" y="391.75" width="10.5" height="10.5" fill="#000"/>
<rect x="515.46" y="365.05" width="10.5" height="10.5" fill="#000"/>
<rect x="522.54" y="375.51" width="10.5" height="10.5" fill="#000"/>
<rect x="529.61" y="391.97" width="10.5" height="10.5" fill="#000"/>
<rect x="536.69" y="410.66" width="10.5" height="10.5" fill="#000"/>
<rect x="543.77" y="431.8" width="10.5" height="10.5" fill="#000"/>
<rect x="550.84" y="458.5" width="10.5" height="10.5" fill="#000"/>
<rect x="557.92" y="486.09" width="10.5" height="10.5" fill="#000"/>
<rect x="565" y="508.12" width="10.5" height="10.5" fill="#000"/>
<rect x="572.08" y="526.81" width="10.5" height="10.5" fill="#000"/>
<rect x="579.15" y="541.05" width="10.5" height="10.5" fill="#000"/>
<rect x="586.23" y="551.06" width="10.5" height="10.5" fill="#000"/>
<rect x="593.31" y="559.74" width="10.5" height="10.5" fill="#000"/>
<rect x="600.38" y="567.3" width="10.5" height="10.5" fill="#000"/>
<rect x="607.46" y="573.53" width="10.5" height="10.5" fill="#000"/>
<rect x="614.54" y="577.31" width="10.5" height="10.5" fill="#000"/>
<rect x="621.61" y="580.88" width="10.5" height="10.5" fill="#000"/>
<rect x="628.69" y="583.1" width="10.5" height="10.5" fill="#000"/>
<rect x="635.77" y="584.88" width="10.5" height="10.5" fill="#000"/>
<rect x="642.85" y="585.32" width="10.5" height="10.5" fill="#000"/>
<rect x="649.92" y="585.32" width="10.5" height="10.5" fill="#000"/>
<rect x="657" y="585.32" width="10.5" height="10.5" fill="#000"/>
<rect x="664.08" y="585.32" width="10.5" height="10.5" fill="#000"/>
<rect x="671.15" y="585.32" width="10.5" height="10.5" fill="#000"/>
<rect x="678.23" y="585.32" width="10.5" height="10.5" fill="#000"/>
<circle cx="400.4" cy="591.46" r="6" fill="#ec2229"/>
<circle cx="407.48" cy="591.46" r="6" fill="#ec2229"/>
<circle cx="414.55" cy="591.46" r="6" fill="#ec2229"/>
<circle cx="421.63" cy="591.46" r="6" fill="#ec2229"/>
<circle cx="428.71" cy="591.46" r="6" fill="#ec2229"/>
<circle cx="435.78" cy="591.46" r="6" fill="#ec2229"/>
<circle cx="442.86" cy="591.46" r="6" fill="#ec2229"/>
<circle cx="449.94" cy="591.46" r="6" fill="#ec2229"/>
<circle cx="457.02" cy="591.46" r="6" fill="#ec2229"/>
<circle cx="464.09" cy="591.46" r="6" fill="#ec2229"/>
<circle cx="471.17" cy="591.46" r="6" fill="#ec2229"/>
<circle cx="478.25" cy="591.46" r="6" fill="#ec2229"/>
<circle cx="485.32" cy="586.57" r="6" fill="#ec2229"/>
<circle cx="492.4" cy="575.44" r="6" fill="#ec2229"/>
<circle cx="499.48" cy="544.52" r="6" fill="#ec2229"/>
<circle cx="506.55" cy="484.44" r="6" fill="#ec2229"/>
<circle cx="513.63" cy="417.02" r="6" fill="#ec2229"/>
<circle cx="520.71" cy="376.97" r="6" fill="#ec2229"/>
<circle cx="527.79" cy="370.3" r="6" fill="#ec2229"/>
<circle cx="534.86" cy="374.75" r="6" fill="#ec2229"/>
<circle cx="541.94" cy="382.31" r="6" fill="#ec2229"/>
<circle cx="549.02" cy="397.22" r="6" fill="#ec2229"/>
<circle cx="556.09" cy="421.47" r="6" fill="#ec2229"/>
<circle cx="563.17" cy="451.29" r="6" fill="#ec2229"/>
<circle cx="570.25" cy="479.99" r="6" fill="#ec2229"/>
<circle cx="577.33" cy="503.8" r="6" fill="#ec2229"/>
<circle cx="584.4" cy="522.49" r="6" fill="#ec2229"/>
<circle cx="591.48" cy="538.29" r="6" fill="#ec2229"/>
<circle cx="598.56" cy="550.75" r="6" fill="#ec2229"/>
<circle cx="605.63" cy="561.2" r="6" fill="#ec2229"/>
<circle cx="612.71" cy="570.55" r="6" fill="#ec2229"/>
<circle cx="619.79" cy="576.33" r="6" fill="#ec2229"/>
<circle cx="626.86" cy="581.23" r="6" fill="#ec2229"/>
<circle cx="633.94" cy="583.9" r="6" fill="#ec2229"/>
<circle cx="641.02" cy="585.68" r="6" fill="#ec2229"/>
<circle cx="648.1" cy="586.79" r="6" fill="#ec2229"/>
<circle cx="655.17" cy="587.46" r="6" fill="#ec2229"/>
<circle cx="662.25" cy="587.9" r="6" fill="#ec2229"/>
<circle cx="669.33" cy="588.13" r="6" fill="#ec2229"/>
<circle cx="676.4" cy="588.35" r="6" fill="#ec2229"/>
<circle cx="683.48" cy="588.35" r="6" fill="#ec2229"/>
</g>
<path d="M400.2,592.8 L683.5,592.8" fill="none" stroke="#505050" stroke-width="1.3"/>
<path d="M572.8,362.7 L596.5,362.7" fill="none" stroke="#111" stroke-width="1.0"/>
<rect x="578.8" y="357.2" width="11" height="11" fill="#000"/>
<text x="600.5" y="367.2" font-size="13" text-anchor="start" fill="#222" stroke="#222" stroke-width="0.15" >PAP on PEN</text>
<path d="M572.8,377.6 L596.5,377.6" fill="none" stroke="#ec2229" stroke-width="1.0"/>
<circle cx="584.3" cy="377.6" r="6.2" fill="#ec2229"/>
<text x="600.5" y="382.1" font-size="13" text-anchor="start" fill="#222" stroke="#222" stroke-width="0.15" >PAP on glass</text>
<path d="M572.8,392.6 L596.5,392.6" fill="none" stroke="#333" stroke-width="0.8" stroke-dasharray="1,1.5"/>
<rect x="579.45" y="387.75" width="9.7" height="9.7" fill="#fff" stroke="#111" stroke-width="1.3"/>
<text x="600.5" y="397.1" font-size="13" text-anchor="start" fill="#222" stroke="#222" stroke-width="0.15" >ITO on PEN</text>
<path d="M572.8,407.6 L596.5,407.6" fill="none" stroke="#333" stroke-width="0.8" stroke-dasharray="1,1.5"/>
<circle cx="584.3" cy="407.6" r="5.55" fill="#fff" stroke="#111" stroke-width="1.3"/>
<text x="600.5" y="412.1" font-size="13" text-anchor="start" fill="#222" stroke="#222" stroke-width="0.15" >ITO on glass</text>
</svg></body></html>
